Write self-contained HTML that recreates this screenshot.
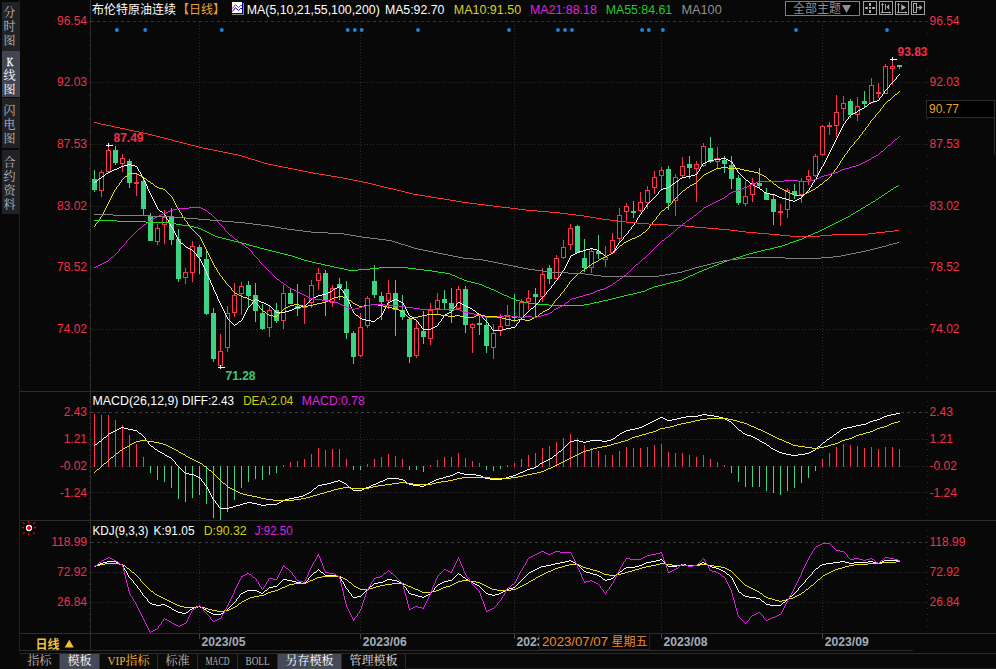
<!DOCTYPE html>
<html><head><meta charset="utf-8"><title>K</title>
<style>html,body{margin:0;padding:0;background:#080808;width:996px;height:669px;overflow:hidden;font-family:"Liberation Sans",sans-serif}</style>
</head><body>
<svg width="996" height="669" viewBox="0 0 996 669" style="position:absolute;left:0;top:0;display:block">
<rect width="996" height="669" fill="#080808"/>
<g shape-rendering="crispEdges">
<line x1="91" x2="927" y1="21.5" y2="21.5" stroke="#343434" stroke-dasharray="3 3"/>
<line x1="91" x2="927" y1="82.5" y2="82.5" stroke="#2c2c2c" stroke-dasharray="1 2"/>
<line x1="91" x2="927" y1="144.5" y2="144.5" stroke="#2c2c2c" stroke-dasharray="1 2"/>
<line x1="91" x2="927" y1="206.5" y2="206.5" stroke="#2c2c2c" stroke-dasharray="1 2"/>
<line x1="91" x2="927" y1="267.5" y2="267.5" stroke="#2c2c2c" stroke-dasharray="1 2"/>
<line x1="91" x2="927" y1="329.5" y2="329.5" stroke="#2c2c2c" stroke-dasharray="1 2"/>
<line x1="199.5" x2="199.5" y1="22" y2="391" stroke="#2c2c2c" stroke-dasharray="1 2"/>
<line x1="199.5" x2="199.5" y1="413" y2="520" stroke="#2c2c2c" stroke-dasharray="1 2"/>
<line x1="199.5" x2="199.5" y1="543" y2="633" stroke="#2c2c2c" stroke-dasharray="1 2"/>
<line x1="199.5" x2="199.5" y1="633" y2="639" stroke="#444"/>
<line x1="360.5" x2="360.5" y1="22" y2="391" stroke="#2c2c2c" stroke-dasharray="1 2"/>
<line x1="360.5" x2="360.5" y1="413" y2="520" stroke="#2c2c2c" stroke-dasharray="1 2"/>
<line x1="360.5" x2="360.5" y1="543" y2="633" stroke="#2c2c2c" stroke-dasharray="1 2"/>
<line x1="360.5" x2="360.5" y1="633" y2="639" stroke="#444"/>
<line x1="514.5" x2="514.5" y1="22" y2="391" stroke="#2c2c2c" stroke-dasharray="1 2"/>
<line x1="514.5" x2="514.5" y1="413" y2="520" stroke="#2c2c2c" stroke-dasharray="1 2"/>
<line x1="514.5" x2="514.5" y1="543" y2="633" stroke="#2c2c2c" stroke-dasharray="1 2"/>
<line x1="514.5" x2="514.5" y1="633" y2="639" stroke="#444"/>
<line x1="661.5" x2="661.5" y1="22" y2="391" stroke="#2c2c2c" stroke-dasharray="1 2"/>
<line x1="661.5" x2="661.5" y1="413" y2="520" stroke="#2c2c2c" stroke-dasharray="1 2"/>
<line x1="661.5" x2="661.5" y1="543" y2="633" stroke="#2c2c2c" stroke-dasharray="1 2"/>
<line x1="661.5" x2="661.5" y1="633" y2="639" stroke="#444"/>
<line x1="822.5" x2="822.5" y1="22" y2="391" stroke="#2c2c2c" stroke-dasharray="1 2"/>
<line x1="822.5" x2="822.5" y1="413" y2="520" stroke="#2c2c2c" stroke-dasharray="1 2"/>
<line x1="822.5" x2="822.5" y1="543" y2="633" stroke="#2c2c2c" stroke-dasharray="1 2"/>
<line x1="822.5" x2="822.5" y1="633" y2="639" stroke="#444"/>
<line x1="91" x2="927" y1="412.5" y2="412.5" stroke="#3c3c3c" stroke-dasharray="3 3"/>
<line x1="91" x2="927" y1="439.5" y2="439.5" stroke="#2c2c2c" stroke-dasharray="1 2"/>
<line x1="91" x2="927" y1="466.5" y2="466.5" stroke="#2c2c2c" stroke-dasharray="1 2"/>
<line x1="91" x2="927" y1="492.5" y2="492.5" stroke="#2c2c2c" stroke-dasharray="1 2"/>
<line x1="91" x2="927" y1="542.5" y2="542.5" stroke="#3c3c3c" stroke-dasharray="3 3"/>
<line x1="91" x2="927" y1="572.5" y2="572.5" stroke="#2c2c2c" stroke-dasharray="1 2"/>
<line x1="91" x2="927" y1="602.5" y2="602.5" stroke="#2c2c2c" stroke-dasharray="1 2"/>
<line x1="20" x2="996" y1="391.5" y2="391.5" stroke="#2c2c2c"/>
<line x1="20" x2="996" y1="520.5" y2="520.5" stroke="#2c2c2c"/>
<line x1="20" x2="996" y1="633.5" y2="633.5" stroke="#2c2c2c"/>
<line x1="20" x2="913" y1="650.5" y2="650.5" stroke="#2c2c2c"/>
<line x1="90.5" x2="90.5" y1="0" y2="651" stroke="#2c2c2c"/>
<line x1="19.5" x2="19.5" y1="0" y2="669" stroke="#222"/>
<line x1="89" x2="90" y1="21.5" y2="21.5" stroke="#2c2c2c"/>
<line x1="927" x2="928" y1="21.5" y2="21.5" stroke="#2c2c2c"/>
<line x1="89" x2="90" y1="33.5" y2="33.5" stroke="#2c2c2c"/>
<line x1="927" x2="928" y1="33.5" y2="33.5" stroke="#2c2c2c"/>
<line x1="89" x2="90" y1="45.5" y2="45.5" stroke="#2c2c2c"/>
<line x1="927" x2="928" y1="45.5" y2="45.5" stroke="#2c2c2c"/>
<line x1="89" x2="90" y1="58.5" y2="58.5" stroke="#2c2c2c"/>
<line x1="927" x2="928" y1="58.5" y2="58.5" stroke="#2c2c2c"/>
<line x1="89" x2="90" y1="70.5" y2="70.5" stroke="#2c2c2c"/>
<line x1="927" x2="928" y1="70.5" y2="70.5" stroke="#2c2c2c"/>
<line x1="89" x2="90" y1="82.5" y2="82.5" stroke="#2c2c2c"/>
<line x1="927" x2="928" y1="82.5" y2="82.5" stroke="#2c2c2c"/>
<line x1="89" x2="90" y1="95.5" y2="95.5" stroke="#2c2c2c"/>
<line x1="927" x2="928" y1="95.5" y2="95.5" stroke="#2c2c2c"/>
<line x1="89" x2="90" y1="107.5" y2="107.5" stroke="#2c2c2c"/>
<line x1="927" x2="928" y1="107.5" y2="107.5" stroke="#2c2c2c"/>
<line x1="89" x2="90" y1="119.5" y2="119.5" stroke="#2c2c2c"/>
<line x1="927" x2="928" y1="119.5" y2="119.5" stroke="#2c2c2c"/>
<line x1="89" x2="90" y1="131.5" y2="131.5" stroke="#2c2c2c"/>
<line x1="927" x2="928" y1="131.5" y2="131.5" stroke="#2c2c2c"/>
<line x1="89" x2="90" y1="144.5" y2="144.5" stroke="#2c2c2c"/>
<line x1="927" x2="928" y1="144.5" y2="144.5" stroke="#2c2c2c"/>
<line x1="89" x2="90" y1="156.5" y2="156.5" stroke="#2c2c2c"/>
<line x1="927" x2="928" y1="156.5" y2="156.5" stroke="#2c2c2c"/>
<line x1="89" x2="90" y1="168.5" y2="168.5" stroke="#2c2c2c"/>
<line x1="927" x2="928" y1="168.5" y2="168.5" stroke="#2c2c2c"/>
<line x1="89" x2="90" y1="181.5" y2="181.5" stroke="#2c2c2c"/>
<line x1="927" x2="928" y1="181.5" y2="181.5" stroke="#2c2c2c"/>
<line x1="89" x2="90" y1="193.5" y2="193.5" stroke="#2c2c2c"/>
<line x1="927" x2="928" y1="193.5" y2="193.5" stroke="#2c2c2c"/>
<line x1="89" x2="90" y1="205.5" y2="205.5" stroke="#2c2c2c"/>
<line x1="927" x2="928" y1="205.5" y2="205.5" stroke="#2c2c2c"/>
<line x1="89" x2="90" y1="218.5" y2="218.5" stroke="#2c2c2c"/>
<line x1="927" x2="928" y1="218.5" y2="218.5" stroke="#2c2c2c"/>
<line x1="89" x2="90" y1="230.5" y2="230.5" stroke="#2c2c2c"/>
<line x1="927" x2="928" y1="230.5" y2="230.5" stroke="#2c2c2c"/>
<line x1="89" x2="90" y1="242.5" y2="242.5" stroke="#2c2c2c"/>
<line x1="927" x2="928" y1="242.5" y2="242.5" stroke="#2c2c2c"/>
<line x1="89" x2="90" y1="254.5" y2="254.5" stroke="#2c2c2c"/>
<line x1="927" x2="928" y1="254.5" y2="254.5" stroke="#2c2c2c"/>
<line x1="89" x2="90" y1="267.5" y2="267.5" stroke="#2c2c2c"/>
<line x1="927" x2="928" y1="267.5" y2="267.5" stroke="#2c2c2c"/>
<line x1="89" x2="90" y1="279.5" y2="279.5" stroke="#2c2c2c"/>
<line x1="927" x2="928" y1="279.5" y2="279.5" stroke="#2c2c2c"/>
<line x1="89" x2="90" y1="291.5" y2="291.5" stroke="#2c2c2c"/>
<line x1="927" x2="928" y1="291.5" y2="291.5" stroke="#2c2c2c"/>
<line x1="89" x2="90" y1="304.5" y2="304.5" stroke="#2c2c2c"/>
<line x1="927" x2="928" y1="304.5" y2="304.5" stroke="#2c2c2c"/>
<line x1="89" x2="90" y1="316.5" y2="316.5" stroke="#2c2c2c"/>
<line x1="927" x2="928" y1="316.5" y2="316.5" stroke="#2c2c2c"/>
<line x1="89" x2="90" y1="328.5" y2="328.5" stroke="#2c2c2c"/>
<line x1="927" x2="928" y1="328.5" y2="328.5" stroke="#2c2c2c"/>
<line x1="89" x2="90" y1="341.5" y2="341.5" stroke="#2c2c2c"/>
<line x1="927" x2="928" y1="341.5" y2="341.5" stroke="#2c2c2c"/>
<line x1="89" x2="90" y1="353.5" y2="353.5" stroke="#2c2c2c"/>
<line x1="927" x2="928" y1="353.5" y2="353.5" stroke="#2c2c2c"/>
<line x1="89" x2="90" y1="365.5" y2="365.5" stroke="#2c2c2c"/>
<line x1="927" x2="928" y1="365.5" y2="365.5" stroke="#2c2c2c"/>
<line x1="89" x2="90" y1="377.5" y2="377.5" stroke="#2c2c2c"/>
<line x1="927" x2="928" y1="377.5" y2="377.5" stroke="#2c2c2c"/>
<line x1="89" x2="90" y1="401.5" y2="401.5" stroke="#2c2c2c"/>
<line x1="927" x2="928" y1="401.5" y2="401.5" stroke="#2c2c2c"/>
<line x1="89" x2="90" y1="406.5" y2="406.5" stroke="#2c2c2c"/>
<line x1="927" x2="928" y1="406.5" y2="406.5" stroke="#2c2c2c"/>
<line x1="89" x2="90" y1="412.5" y2="412.5" stroke="#2c2c2c"/>
<line x1="927" x2="928" y1="412.5" y2="412.5" stroke="#2c2c2c"/>
<line x1="89" x2="90" y1="417.5" y2="417.5" stroke="#2c2c2c"/>
<line x1="927" x2="928" y1="417.5" y2="417.5" stroke="#2c2c2c"/>
<line x1="89" x2="90" y1="423.5" y2="423.5" stroke="#2c2c2c"/>
<line x1="927" x2="928" y1="423.5" y2="423.5" stroke="#2c2c2c"/>
<line x1="89" x2="90" y1="428.5" y2="428.5" stroke="#2c2c2c"/>
<line x1="927" x2="928" y1="428.5" y2="428.5" stroke="#2c2c2c"/>
<line x1="89" x2="90" y1="433.5" y2="433.5" stroke="#2c2c2c"/>
<line x1="927" x2="928" y1="433.5" y2="433.5" stroke="#2c2c2c"/>
<line x1="89" x2="90" y1="439.5" y2="439.5" stroke="#2c2c2c"/>
<line x1="927" x2="928" y1="439.5" y2="439.5" stroke="#2c2c2c"/>
<line x1="89" x2="90" y1="444.5" y2="444.5" stroke="#2c2c2c"/>
<line x1="927" x2="928" y1="444.5" y2="444.5" stroke="#2c2c2c"/>
<line x1="89" x2="90" y1="449.5" y2="449.5" stroke="#2c2c2c"/>
<line x1="927" x2="928" y1="449.5" y2="449.5" stroke="#2c2c2c"/>
<line x1="89" x2="90" y1="455.5" y2="455.5" stroke="#2c2c2c"/>
<line x1="927" x2="928" y1="455.5" y2="455.5" stroke="#2c2c2c"/>
<line x1="89" x2="90" y1="460.5" y2="460.5" stroke="#2c2c2c"/>
<line x1="927" x2="928" y1="460.5" y2="460.5" stroke="#2c2c2c"/>
<line x1="89" x2="90" y1="466.5" y2="466.5" stroke="#2c2c2c"/>
<line x1="927" x2="928" y1="466.5" y2="466.5" stroke="#2c2c2c"/>
<line x1="89" x2="90" y1="471.5" y2="471.5" stroke="#2c2c2c"/>
<line x1="927" x2="928" y1="471.5" y2="471.5" stroke="#2c2c2c"/>
<line x1="89" x2="90" y1="476.5" y2="476.5" stroke="#2c2c2c"/>
<line x1="927" x2="928" y1="476.5" y2="476.5" stroke="#2c2c2c"/>
<line x1="89" x2="90" y1="482.5" y2="482.5" stroke="#2c2c2c"/>
<line x1="927" x2="928" y1="482.5" y2="482.5" stroke="#2c2c2c"/>
<line x1="89" x2="90" y1="487.5" y2="487.5" stroke="#2c2c2c"/>
<line x1="927" x2="928" y1="487.5" y2="487.5" stroke="#2c2c2c"/>
<line x1="89" x2="90" y1="492.5" y2="492.5" stroke="#2c2c2c"/>
<line x1="927" x2="928" y1="492.5" y2="492.5" stroke="#2c2c2c"/>
<line x1="89" x2="90" y1="498.5" y2="498.5" stroke="#2c2c2c"/>
<line x1="927" x2="928" y1="498.5" y2="498.5" stroke="#2c2c2c"/>
<line x1="89" x2="90" y1="503.5" y2="503.5" stroke="#2c2c2c"/>
<line x1="927" x2="928" y1="503.5" y2="503.5" stroke="#2c2c2c"/>
<line x1="89" x2="90" y1="508.5" y2="508.5" stroke="#2c2c2c"/>
<line x1="927" x2="928" y1="508.5" y2="508.5" stroke="#2c2c2c"/>
<line x1="89" x2="90" y1="514.5" y2="514.5" stroke="#2c2c2c"/>
<line x1="927" x2="928" y1="514.5" y2="514.5" stroke="#2c2c2c"/>
<line x1="89" x2="90" y1="530.5" y2="530.5" stroke="#2c2c2c"/>
<line x1="927" x2="928" y1="530.5" y2="530.5" stroke="#2c2c2c"/>
<line x1="89" x2="90" y1="536.5" y2="536.5" stroke="#2c2c2c"/>
<line x1="927" x2="928" y1="536.5" y2="536.5" stroke="#2c2c2c"/>
<line x1="89" x2="90" y1="542.5" y2="542.5" stroke="#2c2c2c"/>
<line x1="927" x2="928" y1="542.5" y2="542.5" stroke="#2c2c2c"/>
<line x1="89" x2="90" y1="548.5" y2="548.5" stroke="#2c2c2c"/>
<line x1="927" x2="928" y1="548.5" y2="548.5" stroke="#2c2c2c"/>
<line x1="89" x2="90" y1="554.5" y2="554.5" stroke="#2c2c2c"/>
<line x1="927" x2="928" y1="554.5" y2="554.5" stroke="#2c2c2c"/>
<line x1="89" x2="90" y1="560.5" y2="560.5" stroke="#2c2c2c"/>
<line x1="927" x2="928" y1="560.5" y2="560.5" stroke="#2c2c2c"/>
<line x1="89" x2="90" y1="566.5" y2="566.5" stroke="#2c2c2c"/>
<line x1="927" x2="928" y1="566.5" y2="566.5" stroke="#2c2c2c"/>
<line x1="89" x2="90" y1="572.5" y2="572.5" stroke="#2c2c2c"/>
<line x1="927" x2="928" y1="572.5" y2="572.5" stroke="#2c2c2c"/>
<line x1="89" x2="90" y1="578.5" y2="578.5" stroke="#2c2c2c"/>
<line x1="927" x2="928" y1="578.5" y2="578.5" stroke="#2c2c2c"/>
<line x1="89" x2="90" y1="584.5" y2="584.5" stroke="#2c2c2c"/>
<line x1="927" x2="928" y1="584.5" y2="584.5" stroke="#2c2c2c"/>
<line x1="89" x2="90" y1="590.5" y2="590.5" stroke="#2c2c2c"/>
<line x1="927" x2="928" y1="590.5" y2="590.5" stroke="#2c2c2c"/>
<line x1="89" x2="90" y1="596.5" y2="596.5" stroke="#2c2c2c"/>
<line x1="927" x2="928" y1="596.5" y2="596.5" stroke="#2c2c2c"/>
<line x1="89" x2="90" y1="602.5" y2="602.5" stroke="#2c2c2c"/>
<line x1="927" x2="928" y1="602.5" y2="602.5" stroke="#2c2c2c"/>
<line x1="89" x2="90" y1="608.5" y2="608.5" stroke="#2c2c2c"/>
<line x1="927" x2="928" y1="608.5" y2="608.5" stroke="#2c2c2c"/>
<line x1="89" x2="90" y1="614.5" y2="614.5" stroke="#2c2c2c"/>
<line x1="927" x2="928" y1="614.5" y2="614.5" stroke="#2c2c2c"/>
<line x1="89" x2="90" y1="620.5" y2="620.5" stroke="#2c2c2c"/>
<line x1="927" x2="928" y1="620.5" y2="620.5" stroke="#2c2c2c"/>
<line x1="89" x2="90" y1="626.5" y2="626.5" stroke="#2c2c2c"/>
<line x1="927" x2="928" y1="626.5" y2="626.5" stroke="#2c2c2c"/>
</g>
<g shape-rendering="crispEdges">
<rect x="94" y="170" width="1" height="22" fill="#3dd284"/>
<rect x="92" y="179" width="5" height="11" fill="#3dd284"/>
<rect x="101" y="170" width="1" height="2" fill="#ff3250"/>
<rect x="101" y="191" width="1" height="6" fill="#ff3250"/>
<rect x="99.5" y="172.5" width="4" height="18" fill="#000" stroke="#ff3250" stroke-width="1"/>
<rect x="108" y="145" width="1" height="5" fill="#ff3250"/>
<rect x="108" y="172" width="1" height="1" fill="#ff3250"/>
<rect x="106.5" y="150.5" width="4" height="21" fill="#000" stroke="#ff3250" stroke-width="1"/>
<rect x="115" y="146" width="1" height="19" fill="#3dd284"/>
<rect x="113" y="150" width="5" height="13" fill="#3dd284"/>
<rect x="122" y="154" width="1" height="4" fill="#ff3250"/>
<rect x="122" y="164" width="1" height="8" fill="#ff3250"/>
<rect x="120.5" y="158.5" width="4" height="5" fill="#000" stroke="#ff3250" stroke-width="1"/>
<rect x="129" y="159" width="1" height="29" fill="#3dd284"/>
<rect x="127" y="161" width="5" height="22" fill="#3dd284"/>
<rect x="136" y="174" width="1" height="22" fill="#ff3250"/>
<rect x="134" y="182" width="5" height="2" fill="#ff3250"/>
<rect x="143" y="178" width="1" height="37" fill="#3dd284"/>
<rect x="141" y="181" width="5" height="28" fill="#3dd284"/>
<rect x="150" y="213" width="1" height="28" fill="#3dd284"/>
<rect x="148" y="216" width="5" height="25" fill="#3dd284"/>
<rect x="157" y="224" width="1" height="4" fill="#ff3250"/>
<rect x="157" y="242" width="1" height="3" fill="#ff3250"/>
<rect x="155.5" y="228.5" width="4" height="13" fill="#000" stroke="#ff3250" stroke-width="1"/>
<rect x="164" y="210" width="1" height="7" fill="#ff3250"/>
<rect x="164" y="225" width="1" height="19" fill="#ff3250"/>
<rect x="162.5" y="217.5" width="4" height="7" fill="#000" stroke="#ff3250" stroke-width="1"/>
<rect x="171" y="208" width="1" height="37" fill="#3dd284"/>
<rect x="169" y="216" width="5" height="24" fill="#3dd284"/>
<rect x="178" y="229" width="1" height="53" fill="#3dd284"/>
<rect x="176" y="239" width="5" height="40" fill="#3dd284"/>
<rect x="185" y="268" width="1" height="4" fill="#ff3250"/>
<rect x="185" y="278" width="1" height="6" fill="#ff3250"/>
<rect x="183.5" y="272.5" width="4" height="5" fill="#000" stroke="#ff3250" stroke-width="1"/>
<rect x="192" y="241" width="1" height="5" fill="#ff3250"/>
<rect x="192" y="273" width="1" height="9" fill="#ff3250"/>
<rect x="190.5" y="246.5" width="4" height="26" fill="#000" stroke="#ff3250" stroke-width="1"/>
<rect x="199" y="245" width="1" height="29" fill="#3dd284"/>
<rect x="197" y="247" width="5" height="10" fill="#3dd284"/>
<rect x="206" y="251" width="1" height="64" fill="#3dd284"/>
<rect x="204" y="259" width="5" height="55" fill="#3dd284"/>
<rect x="213" y="308" width="1" height="54" fill="#3dd284"/>
<rect x="211" y="313" width="5" height="46" fill="#3dd284"/>
<rect x="220" y="334" width="1" height="17" fill="#ff3250"/>
<rect x="220" y="366" width="1" height="2" fill="#ff3250"/>
<rect x="218.5" y="351.5" width="4" height="14" fill="#000" stroke="#ff3250" stroke-width="1"/>
<rect x="227" y="306" width="1" height="7" fill="#ff3250"/>
<rect x="227" y="348" width="1" height="4" fill="#ff3250"/>
<rect x="225.5" y="313.5" width="4" height="34" fill="#000" stroke="#ff3250" stroke-width="1"/>
<rect x="234" y="283" width="1" height="12" fill="#ff3250"/>
<rect x="234" y="313" width="1" height="4" fill="#ff3250"/>
<rect x="232.5" y="295.5" width="4" height="17" fill="#000" stroke="#ff3250" stroke-width="1"/>
<rect x="241" y="282" width="1" height="4" fill="#ff3250"/>
<rect x="241" y="294" width="1" height="21" fill="#ff3250"/>
<rect x="239.5" y="286.5" width="4" height="7" fill="#000" stroke="#ff3250" stroke-width="1"/>
<rect x="248" y="281" width="1" height="27" fill="#3dd284"/>
<rect x="246" y="285" width="5" height="11" fill="#3dd284"/>
<rect x="255" y="283" width="1" height="39" fill="#3dd284"/>
<rect x="253" y="295" width="5" height="16" fill="#3dd284"/>
<rect x="262" y="304" width="1" height="26" fill="#3dd284"/>
<rect x="260" y="313" width="5" height="16" fill="#3dd284"/>
<rect x="269" y="306" width="1" height="4" fill="#ff3250"/>
<rect x="269" y="328" width="1" height="9" fill="#ff3250"/>
<rect x="267.5" y="310.5" width="4" height="17" fill="#000" stroke="#ff3250" stroke-width="1"/>
<rect x="276" y="303" width="1" height="20" fill="#3dd284"/>
<rect x="274" y="310" width="5" height="11" fill="#3dd284"/>
<rect x="283" y="285" width="1" height="8" fill="#ff3250"/>
<rect x="283" y="321" width="1" height="8" fill="#ff3250"/>
<rect x="281.5" y="293.5" width="4" height="27" fill="#000" stroke="#ff3250" stroke-width="1"/>
<rect x="290" y="289" width="1" height="15" fill="#3dd284"/>
<rect x="288" y="293" width="5" height="11" fill="#3dd284"/>
<rect x="297" y="284" width="1" height="32" fill="#3dd284"/>
<rect x="295" y="306" width="5" height="3" fill="#3dd284"/>
<rect x="304" y="298" width="1" height="26" fill="#ff3250"/>
<rect x="302" y="306" width="5" height="2" fill="#ff3250"/>
<rect x="311" y="280" width="1" height="5" fill="#ff3250"/>
<rect x="311" y="303" width="1" height="5" fill="#ff3250"/>
<rect x="309.5" y="285.5" width="4" height="17" fill="#000" stroke="#ff3250" stroke-width="1"/>
<rect x="318" y="268" width="1" height="5" fill="#ff3250"/>
<rect x="318" y="281" width="1" height="9" fill="#ff3250"/>
<rect x="316.5" y="273.5" width="4" height="7" fill="#000" stroke="#ff3250" stroke-width="1"/>
<rect x="325" y="270" width="1" height="46" fill="#3dd284"/>
<rect x="323" y="273" width="5" height="28" fill="#3dd284"/>
<rect x="332" y="285" width="1" height="3" fill="#ff3250"/>
<rect x="332" y="303" width="1" height="4" fill="#ff3250"/>
<rect x="330.5" y="288.5" width="4" height="14" fill="#000" stroke="#ff3250" stroke-width="1"/>
<rect x="339" y="278" width="1" height="22" fill="#3dd284"/>
<rect x="337" y="284" width="5" height="4" fill="#3dd284"/>
<rect x="346" y="281" width="1" height="58" fill="#3dd284"/>
<rect x="344" y="289" width="5" height="44" fill="#3dd284"/>
<rect x="353" y="331" width="1" height="33" fill="#3dd284"/>
<rect x="351" y="333" width="5" height="24" fill="#3dd284"/>
<rect x="360" y="313" width="1" height="14" fill="#ff3250"/>
<rect x="360" y="356" width="1" height="1" fill="#ff3250"/>
<rect x="358.5" y="327.5" width="4" height="28" fill="#000" stroke="#ff3250" stroke-width="1"/>
<rect x="367" y="296" width="1" height="2" fill="#ff3250"/>
<rect x="367" y="326" width="1" height="2" fill="#ff3250"/>
<rect x="365.5" y="298.5" width="4" height="27" fill="#000" stroke="#ff3250" stroke-width="1"/>
<rect x="374" y="265" width="1" height="33" fill="#3dd284"/>
<rect x="372" y="281" width="5" height="14" fill="#3dd284"/>
<rect x="381" y="292" width="1" height="28" fill="#3dd284"/>
<rect x="379" y="296" width="5" height="6" fill="#3dd284"/>
<rect x="388" y="280" width="1" height="13" fill="#ff3250"/>
<rect x="388" y="301" width="1" height="8" fill="#ff3250"/>
<rect x="386.5" y="293.5" width="4" height="7" fill="#000" stroke="#ff3250" stroke-width="1"/>
<rect x="395" y="280" width="1" height="56" fill="#3dd284"/>
<rect x="393" y="293" width="5" height="17" fill="#3dd284"/>
<rect x="402" y="295" width="1" height="25" fill="#3dd284"/>
<rect x="400" y="310" width="5" height="7" fill="#3dd284"/>
<rect x="409" y="317" width="1" height="46" fill="#3dd284"/>
<rect x="407" y="319" width="5" height="38" fill="#3dd284"/>
<rect x="416" y="321" width="1" height="7" fill="#ff3250"/>
<rect x="416" y="356" width="1" height="2" fill="#ff3250"/>
<rect x="414.5" y="328.5" width="4" height="27" fill="#000" stroke="#ff3250" stroke-width="1"/>
<rect x="423" y="311" width="1" height="33" fill="#3dd284"/>
<rect x="421" y="331" width="5" height="6" fill="#3dd284"/>
<rect x="430" y="303" width="1" height="7" fill="#ff3250"/>
<rect x="430" y="339" width="1" height="6" fill="#ff3250"/>
<rect x="428.5" y="310.5" width="4" height="28" fill="#000" stroke="#ff3250" stroke-width="1"/>
<rect x="437" y="293" width="1" height="7" fill="#ff3250"/>
<rect x="437" y="309" width="1" height="5" fill="#ff3250"/>
<rect x="435.5" y="300.5" width="4" height="8" fill="#000" stroke="#ff3250" stroke-width="1"/>
<rect x="444" y="290" width="1" height="20" fill="#3dd284"/>
<rect x="442" y="299" width="5" height="4" fill="#3dd284"/>
<rect x="451" y="288" width="1" height="35" fill="#3dd284"/>
<rect x="449" y="303" width="5" height="8" fill="#3dd284"/>
<rect x="458" y="286" width="1" height="3" fill="#ff3250"/>
<rect x="458" y="309" width="1" height="1" fill="#ff3250"/>
<rect x="456.5" y="289.5" width="4" height="19" fill="#000" stroke="#ff3250" stroke-width="1"/>
<rect x="465" y="286" width="1" height="47" fill="#3dd284"/>
<rect x="463" y="289" width="5" height="36" fill="#3dd284"/>
<rect x="472" y="323" width="1" height="1" fill="#ff3250"/>
<rect x="472" y="328" width="1" height="25" fill="#ff3250"/>
<rect x="470.5" y="324.5" width="4" height="3" fill="#000" stroke="#ff3250" stroke-width="1"/>
<rect x="479" y="316" width="1" height="19" fill="#3dd284"/>
<rect x="477" y="323" width="5" height="2" fill="#3dd284"/>
<rect x="486" y="317" width="1" height="36" fill="#3dd284"/>
<rect x="484" y="325" width="5" height="21" fill="#3dd284"/>
<rect x="493" y="324" width="1" height="9" fill="#ff3250"/>
<rect x="493" y="348" width="1" height="11" fill="#ff3250"/>
<rect x="491.5" y="333.5" width="4" height="14" fill="#000" stroke="#ff3250" stroke-width="1"/>
<rect x="500" y="314" width="1" height="12" fill="#ff3250"/>
<rect x="500" y="331" width="1" height="5" fill="#ff3250"/>
<rect x="498.5" y="326.5" width="4" height="4" fill="#000" stroke="#ff3250" stroke-width="1"/>
<rect x="507" y="305" width="1" height="11" fill="#ff3250"/>
<rect x="505.5" y="316.5" width="4" height="9" fill="#000" stroke="#ff3250" stroke-width="1"/>
<rect x="514" y="294" width="1" height="28" fill="#3dd284"/>
<rect x="512" y="316" width="5" height="2" fill="#3dd284"/>
<rect x="521" y="299" width="1" height="3" fill="#ff3250"/>
<rect x="521" y="318" width="1" height="1" fill="#ff3250"/>
<rect x="519.5" y="302.5" width="4" height="15" fill="#000" stroke="#ff3250" stroke-width="1"/>
<rect x="528" y="290" width="1" height="8" fill="#ff3250"/>
<rect x="528" y="302" width="1" height="8" fill="#ff3250"/>
<rect x="526.5" y="298.5" width="4" height="3" fill="#000" stroke="#ff3250" stroke-width="1"/>
<rect x="535" y="288" width="1" height="29" fill="#3dd284"/>
<rect x="533" y="294" width="5" height="3" fill="#3dd284"/>
<rect x="542" y="268" width="1" height="6" fill="#ff3250"/>
<rect x="542" y="297" width="1" height="5" fill="#ff3250"/>
<rect x="540.5" y="274.5" width="4" height="22" fill="#000" stroke="#ff3250" stroke-width="1"/>
<rect x="549" y="265" width="1" height="19" fill="#3dd284"/>
<rect x="547" y="268" width="5" height="11" fill="#3dd284"/>
<rect x="556" y="255" width="1" height="3" fill="#ff3250"/>
<rect x="554.5" y="258.5" width="4" height="20" fill="#000" stroke="#ff3250" stroke-width="1"/>
<rect x="563" y="240" width="1" height="7" fill="#ff3250"/>
<rect x="563" y="258" width="1" height="1" fill="#ff3250"/>
<rect x="561.5" y="247.5" width="4" height="10" fill="#000" stroke="#ff3250" stroke-width="1"/>
<rect x="570" y="224" width="1" height="4" fill="#ff3250"/>
<rect x="570" y="245" width="1" height="5" fill="#ff3250"/>
<rect x="568.5" y="228.5" width="4" height="16" fill="#000" stroke="#ff3250" stroke-width="1"/>
<rect x="577" y="225" width="1" height="28" fill="#3dd284"/>
<rect x="575" y="226" width="5" height="27" fill="#3dd284"/>
<rect x="584" y="239" width="1" height="33" fill="#3dd284"/>
<rect x="582" y="258" width="5" height="10" fill="#3dd284"/>
<rect x="591" y="248" width="1" height="3" fill="#ff3250"/>
<rect x="591" y="268" width="1" height="5" fill="#ff3250"/>
<rect x="589.5" y="251.5" width="4" height="16" fill="#000" stroke="#ff3250" stroke-width="1"/>
<rect x="598" y="235" width="1" height="24" fill="#3dd284"/>
<rect x="596" y="251" width="5" height="3" fill="#3dd284"/>
<rect x="605" y="246" width="1" height="11" fill="#ff3250"/>
<rect x="605" y="260" width="1" height="7" fill="#ff3250"/>
<rect x="603.5" y="257.5" width="4" height="2" fill="#000" stroke="#ff3250" stroke-width="1"/>
<rect x="612" y="233" width="1" height="7" fill="#ff3250"/>
<rect x="612" y="253" width="1" height="1" fill="#ff3250"/>
<rect x="610.5" y="240.5" width="4" height="12" fill="#000" stroke="#ff3250" stroke-width="1"/>
<rect x="619" y="208" width="1" height="7" fill="#ff3250"/>
<rect x="619" y="239" width="1" height="4" fill="#ff3250"/>
<rect x="617.5" y="215.5" width="4" height="23" fill="#000" stroke="#ff3250" stroke-width="1"/>
<rect x="626" y="203" width="1" height="3" fill="#ff3250"/>
<rect x="626" y="212" width="1" height="9" fill="#ff3250"/>
<rect x="624.5" y="206.5" width="4" height="5" fill="#000" stroke="#ff3250" stroke-width="1"/>
<rect x="633" y="201" width="1" height="17" fill="#3dd284"/>
<rect x="631" y="211" width="5" height="2" fill="#3dd284"/>
<rect x="640" y="192" width="1" height="10" fill="#ff3250"/>
<rect x="640" y="211" width="1" height="1" fill="#ff3250"/>
<rect x="638.5" y="202.5" width="4" height="8" fill="#000" stroke="#ff3250" stroke-width="1"/>
<rect x="647" y="186" width="1" height="4" fill="#ff3250"/>
<rect x="647" y="203" width="1" height="6" fill="#ff3250"/>
<rect x="645.5" y="190.5" width="4" height="12" fill="#000" stroke="#ff3250" stroke-width="1"/>
<rect x="654" y="171" width="1" height="6" fill="#ff3250"/>
<rect x="654" y="188" width="1" height="6" fill="#ff3250"/>
<rect x="652.5" y="177.5" width="4" height="10" fill="#000" stroke="#ff3250" stroke-width="1"/>
<rect x="661" y="167" width="1" height="3" fill="#ff3250"/>
<rect x="661" y="176" width="1" height="13" fill="#ff3250"/>
<rect x="659.5" y="170.5" width="4" height="5" fill="#000" stroke="#ff3250" stroke-width="1"/>
<rect x="668" y="166" width="1" height="44" fill="#3dd284"/>
<rect x="666" y="169" width="5" height="34" fill="#3dd284"/>
<rect x="675" y="174" width="1" height="3" fill="#ff3250"/>
<rect x="675" y="201" width="1" height="15" fill="#ff3250"/>
<rect x="673.5" y="177.5" width="4" height="23" fill="#000" stroke="#ff3250" stroke-width="1"/>
<rect x="682" y="157" width="1" height="9" fill="#ff3250"/>
<rect x="682" y="176" width="1" height="1" fill="#ff3250"/>
<rect x="680.5" y="166.5" width="4" height="9" fill="#000" stroke="#ff3250" stroke-width="1"/>
<rect x="689" y="156" width="1" height="23" fill="#3dd284"/>
<rect x="687" y="164" width="5" height="4" fill="#3dd284"/>
<rect x="696" y="161" width="1" height="3" fill="#ff3250"/>
<rect x="696" y="169" width="1" height="33" fill="#ff3250"/>
<rect x="694.5" y="164.5" width="4" height="4" fill="#000" stroke="#ff3250" stroke-width="1"/>
<rect x="703" y="143" width="1" height="3" fill="#ff3250"/>
<rect x="703" y="166" width="1" height="1" fill="#ff3250"/>
<rect x="701.5" y="146.5" width="4" height="19" fill="#000" stroke="#ff3250" stroke-width="1"/>
<rect x="710" y="137" width="1" height="26" fill="#3dd284"/>
<rect x="708" y="148" width="5" height="14" fill="#3dd284"/>
<rect x="717" y="147" width="1" height="11" fill="#ff3250"/>
<rect x="717" y="162" width="1" height="6" fill="#ff3250"/>
<rect x="715.5" y="158.5" width="4" height="3" fill="#000" stroke="#ff3250" stroke-width="1"/>
<rect x="724" y="156" width="1" height="17" fill="#3dd284"/>
<rect x="722" y="160" width="5" height="4" fill="#3dd284"/>
<rect x="731" y="156" width="1" height="33" fill="#3dd284"/>
<rect x="729" y="165" width="5" height="14" fill="#3dd284"/>
<rect x="738" y="175" width="1" height="30" fill="#3dd284"/>
<rect x="736" y="178" width="5" height="25" fill="#3dd284"/>
<rect x="745" y="181" width="1" height="15" fill="#ff3250"/>
<rect x="745" y="204" width="1" height="2" fill="#ff3250"/>
<rect x="743.5" y="196.5" width="4" height="7" fill="#000" stroke="#ff3250" stroke-width="1"/>
<rect x="752" y="178" width="1" height="5" fill="#ff3250"/>
<rect x="752" y="195" width="1" height="7" fill="#ff3250"/>
<rect x="750.5" y="183.5" width="4" height="11" fill="#000" stroke="#ff3250" stroke-width="1"/>
<rect x="759" y="168" width="1" height="20" fill="#3dd284"/>
<rect x="757" y="183" width="5" height="3" fill="#3dd284"/>
<rect x="766" y="188" width="1" height="12" fill="#3dd284"/>
<rect x="764" y="193" width="5" height="7" fill="#3dd284"/>
<rect x="773" y="195" width="1" height="30" fill="#3dd284"/>
<rect x="771" y="199" width="5" height="13" fill="#3dd284"/>
<rect x="780" y="204" width="1" height="22" fill="#ff3250"/>
<rect x="778" y="211" width="5" height="2" fill="#ff3250"/>
<rect x="787" y="188" width="1" height="2" fill="#ff3250"/>
<rect x="787" y="210" width="1" height="8" fill="#ff3250"/>
<rect x="785.5" y="190.5" width="4" height="19" fill="#000" stroke="#ff3250" stroke-width="1"/>
<rect x="794" y="184" width="1" height="15" fill="#3dd284"/>
<rect x="792" y="191" width="5" height="4" fill="#3dd284"/>
<rect x="801" y="178" width="1" height="3" fill="#ff3250"/>
<rect x="801" y="195" width="1" height="8" fill="#ff3250"/>
<rect x="799.5" y="181.5" width="4" height="13" fill="#000" stroke="#ff3250" stroke-width="1"/>
<rect x="808" y="170" width="1" height="6" fill="#ff3250"/>
<rect x="808" y="180" width="1" height="5" fill="#ff3250"/>
<rect x="806.5" y="176.5" width="4" height="3" fill="#000" stroke="#ff3250" stroke-width="1"/>
<rect x="815" y="154" width="1" height="2" fill="#ff3250"/>
<rect x="815" y="176" width="1" height="1" fill="#ff3250"/>
<rect x="813.5" y="156.5" width="4" height="19" fill="#000" stroke="#ff3250" stroke-width="1"/>
<rect x="822" y="125" width="1" height="1" fill="#ff3250"/>
<rect x="822" y="155" width="1" height="1" fill="#ff3250"/>
<rect x="820.5" y="126.5" width="4" height="28" fill="#000" stroke="#ff3250" stroke-width="1"/>
<rect x="829" y="122" width="1" height="13" fill="#ff3250"/>
<rect x="827" y="125" width="5" height="2" fill="#ff3250"/>
<rect x="836" y="95" width="1" height="17" fill="#ff3250"/>
<rect x="836" y="126" width="1" height="11" fill="#ff3250"/>
<rect x="834.5" y="112.5" width="4" height="13" fill="#000" stroke="#ff3250" stroke-width="1"/>
<rect x="843" y="96" width="1" height="7" fill="#ff3250"/>
<rect x="843" y="109" width="1" height="12" fill="#ff3250"/>
<rect x="841.5" y="103.5" width="4" height="5" fill="#000" stroke="#ff3250" stroke-width="1"/>
<rect x="850" y="99" width="1" height="19" fill="#3dd284"/>
<rect x="848" y="101" width="5" height="14" fill="#3dd284"/>
<rect x="857" y="97" width="1" height="9" fill="#ff3250"/>
<rect x="857" y="115" width="1" height="6" fill="#ff3250"/>
<rect x="855.5" y="106.5" width="4" height="8" fill="#000" stroke="#ff3250" stroke-width="1"/>
<rect x="864" y="91" width="1" height="16" fill="#3dd284"/>
<rect x="862" y="101" width="5" height="3" fill="#3dd284"/>
<rect x="871" y="78" width="1" height="7" fill="#ff3250"/>
<rect x="869.5" y="85.5" width="4" height="17" fill="#000" stroke="#ff3250" stroke-width="1"/>
<rect x="878" y="83" width="1" height="15" fill="#ff3250"/>
<rect x="876" y="92" width="5" height="2" fill="#ff3250"/>
<rect x="885" y="64" width="1" height="2" fill="#ff3250"/>
<rect x="883.5" y="66.5" width="4" height="27" fill="#000" stroke="#ff3250" stroke-width="1"/>
<rect x="892" y="60" width="1" height="6" fill="#ff3250"/>
<rect x="892" y="69" width="1" height="16" fill="#ff3250"/>
<rect x="890.5" y="66.5" width="4" height="2" fill="#000" stroke="#ff3250" stroke-width="1"/>
<rect x="899" y="65" width="1" height="4" fill="#3dd284"/>
<rect x="897" y="65" width="5" height="2" fill="#3dd284"/>
</g>
<path d="M350.5 304v3M217.5 296v3M210.5 280v3M206.5 271v3M213.5 287v3M147.5 186v3M165 216.5h1M639 216.5h1M98 179.5h1M143 179.5h1M679 179.5h1M745 179.5h1M815 179.5h1M194 252.5h1M577 252.5h2M600 252.5h1M613 252.5h1M220 303.5h1M252 303.5h1M264 303.5h2M307 303.5h1M349 303.5h1M387 303.5h1M403 303.5h1M457 303.5h1M460 303.5h2M537 303.5h1M220 304.5h1M251 304.5h1M266 304.5h2M306 304.5h1M387 304.5h1M403 304.5h1M456 304.5h1M462 304.5h2M536 304.5h1M230 321.5h1M239 321.5h2M371 321.5h4M417 321.5h1M440 321.5h1M486 321.5h1M519 321.5h1M150 194.5h1M657 194.5h1M770 194.5h5M804 194.5h1M215 293.5h1M326 293.5h2M344 293.5h1M546 293.5h1M333 289.5h2M341 289.5h1M549 289.5h1M192 250.5h1M583 250.5h3M597 250.5h2M614 250.5h1M219 302.5h1M252 302.5h1M261 302.5h3M308 302.5h1M349 302.5h1M388 302.5h2M401 302.5h2M458 302.5h2M538 302.5h1M216 294.5h1M322 294.5h4M345 294.5h1M545 294.5h1M493 330.5h9M314 297.5h2M346 297.5h1M542 297.5h1M185 246.5h1M616 246.5h1M157 208.5h1M644 208.5h1M214 290.5h1M332 290.5h1M342 290.5h1M548 290.5h1M216 295.5h1M318 295.5h4M345 295.5h1M544 295.5h1M128 164.5h3M702 164.5h1M733 164.5h1M823 164.5h1M106 173.5h2M140 173.5h1M697 173.5h1M739 173.5h1M818 173.5h1M112 170.5h2M138 170.5h1M699 170.5h1M737 170.5h1M820 170.5h1M221 305.5h1M250 305.5h1M268 305.5h2M305 305.5h1M386 305.5h1M404 305.5h1M456 305.5h1M464 305.5h2M535 305.5h1M421 327.5h1M433 327.5h2M491 327.5h1M511 327.5h4M152 197.5h1M654 197.5h1M779 197.5h3M801 197.5h1M663 188.5h4M759 188.5h1M809 188.5h1M208 277.5h1M558 277.5h1M171 226.5h1M632 226.5h1M337 287.5h2M340 287.5h1M551 287.5h1M145 183.5h1M673 183.5h2M750 183.5h2M812 183.5h1M154 202.5h1M649 202.5h1M229 320.5h1M241 320.5h1M366 320.5h5M375 320.5h1M416 320.5h1M441 320.5h1M485 320.5h1M519 320.5h1M840 130.5h1M175 234.5h1M626 234.5h1M215 292.5h1M328 292.5h2M343 292.5h1M546 292.5h1M175 233.5h1M627 233.5h1M97 180.5h1M144 180.5h1M678 180.5h1M746 180.5h2M814 180.5h1M152 198.5h1M653 198.5h1M782 198.5h4M799 198.5h2M227 317.5h1M243 317.5h1M359 317.5h1M379 317.5h1M412 317.5h1M443 317.5h1M482 317.5h1M522 317.5h1M195 253.5h1M575 253.5h2M601 253.5h2M611 253.5h2M190 249.5h2M586 249.5h4M593 249.5h4M615 249.5h1M223 310.5h1M246 310.5h1M274 310.5h1M289 310.5h3M352 310.5h1M384 310.5h1M406 310.5h1M452 310.5h1M473 310.5h2M529 310.5h1M221 306.5h1M249 306.5h1M270 306.5h1M301 306.5h4M386 306.5h1M404 306.5h1M455 306.5h1M466 306.5h2M534 306.5h1M223 309.5h1M247 309.5h1M273 309.5h1M292 309.5h2M352 309.5h1M384 309.5h1M406 309.5h1M453 309.5h1M472 309.5h1M530 309.5h1M176 235.5h1M625 235.5h1M176 236.5h1M624 236.5h1M124 165.5h4M131 165.5h4M702 165.5h1M734 165.5h1M823 165.5h1M831 148.5h1M882 95.5h1M101 177.5h1M142 177.5h1M682 177.5h4M743 177.5h1M816 177.5h1M208 276.5h1M559 276.5h1M227 318.5h1M242 318.5h1M360 318.5h2M377 318.5h2M413 318.5h1M442 318.5h1M483 318.5h1M521 318.5h1M203 266.5h1M565 266.5h1M222 308.5h1M247 308.5h1M272 308.5h1M294 308.5h2M351 308.5h1M385 308.5h1M405 308.5h1M453 308.5h1M470 308.5h2M531 308.5h2M224 312.5h1M245 312.5h1M276 312.5h9M353 312.5h1M383 312.5h1M407 312.5h1M449 312.5h2M476 312.5h1M527 312.5h1M108 172.5h2M140 172.5h1M697 172.5h1M738 172.5h1M819 172.5h1M705 162.5h2M732 162.5h1M824 162.5h1M168 221.5h1M636 221.5h1M196 255.5h1M571 255.5h2M604 255.5h1M607 255.5h2M844 123.5h1M222 307.5h1M248 307.5h1M271 307.5h1M296 307.5h5M351 307.5h1M385 307.5h1M405 307.5h1M454 307.5h1M468 307.5h2M533 307.5h1M847 119.5h1M873 101.5h4M231 322.5h1M238 322.5h1M418 322.5h1M439 322.5h1M487 322.5h1M518 322.5h1M180 242.5h1M619 242.5h1M835 141.5h1M219 301.5h1M253 301.5h1M259 301.5h2M309 301.5h1M348 301.5h1M390 301.5h2M399 301.5h2M539 301.5h1M233 324.5h1M235 324.5h2M419 324.5h1M438 324.5h1M488 324.5h1M516 324.5h1M146 184.5h1M672 184.5h1M752 184.5h1M812 184.5h1M218 300.5h1M254 300.5h1M257 300.5h2M310 300.5h1M348 300.5h1M392 300.5h2M397 300.5h2M539 300.5h1M200 259.5h1M569 259.5h1M228 319.5h1M242 319.5h1M362 319.5h4M376 319.5h1M414 319.5h2M441 319.5h1M484 319.5h1M520 319.5h1M99 178.5h2M143 178.5h1M680 178.5h2M744 178.5h1M816 178.5h1M234 325.5h1M420 325.5h1M437 325.5h1M489 325.5h1M516 325.5h1M422 328.5h1M431 328.5h2M491 328.5h1M506 328.5h5M156 206.5h1M646 206.5h1M226 315.5h1M244 315.5h1M356 315.5h2M381 315.5h1M409 315.5h1M444 315.5h1M480 315.5h1M524 315.5h1M561 273.5h1M709 160.5h5M728 160.5h2M825 160.5h1M102 176.5h2M142 176.5h1M686 176.5h5M742 176.5h1M817 176.5h1M121 166.5h3M135 166.5h2M701 166.5h1M734 166.5h1M822 166.5h1M226 316.5h1M243 316.5h1M358 316.5h1M380 316.5h1M410 316.5h2M443 316.5h1M481 316.5h1M523 316.5h1M110 171.5h2M139 171.5h1M698 171.5h1M737 171.5h1M819 171.5h1M157 207.5h1M645 207.5h1M119 167.5h2M137 167.5h1M700 167.5h1M735 167.5h1M821 167.5h1M178 239.5h1M622 239.5h1M153 199.5h1M652 199.5h1M786 199.5h3M797 199.5h2M188 248.5h2M590 248.5h3M615 248.5h1M218 299.5h1M255 299.5h2M311 299.5h1M347 299.5h1M394 299.5h3M540 299.5h1M423 329.5h8M492 329.5h1M502 329.5h4M153 200.5h1M651 200.5h1M789 200.5h4M795 200.5h2M721 158.5h5M826 158.5h1M858 110.5h2M149 192.5h1M658 192.5h1M764 192.5h2M806 192.5h1M151 196.5h1M655 196.5h1M777 196.5h2M802 196.5h1M224 311.5h1M246 311.5h1M275 311.5h1M285 311.5h4M353 311.5h1M383 311.5h1M407 311.5h1M451 311.5h1M475 311.5h1M528 311.5h1M850 115.5h1M225 314.5h1M244 314.5h1M355 314.5h1M382 314.5h1M408 314.5h1M445 314.5h2M479 314.5h1M525 314.5h1M839 133.5h1M164 214.5h1M640 214.5h1M105 174.5h1M141 174.5h1M695 174.5h2M740 174.5h1M818 174.5h1M165 215.5h1M639 215.5h1M882 94.5h1M862 108.5h2M186 247.5h2M616 247.5h1M898 75.5h1M197 256.5h1M570 256.5h1M605 256.5h2M707 161.5h2M730 161.5h2M825 161.5h1M835 140.5h1M893 81.5h1M169 222.5h1M635 222.5h1M193 251.5h1M579 251.5h4M599 251.5h1M613 251.5h1M199 258.5h1M569 258.5h1M177 238.5h1M623 238.5h1M114 169.5h3M138 169.5h1M699 169.5h1M736 169.5h1M820 169.5h1M156 205.5h1M646 205.5h1M843 125.5h1M170 225.5h1M633 225.5h1M207 274.5h1M560 274.5h1M160 211.5h2M642 211.5h1M232 323.5h1M237 323.5h1M418 323.5h1M438 323.5h1M488 323.5h1M517 323.5h1M148 189.5h1M661 189.5h2M760 189.5h2M809 189.5h1M834 143.5h1M163 213.5h1M641 213.5h1M209 279.5h1M557 279.5h1M154 201.5h1M650 201.5h1M793 201.5h2M94 182.5h1M145 182.5h1M675 182.5h1M749 182.5h1M813 182.5h1M204 268.5h1M564 268.5h1M885 90.5h1M839 132.5h1M205 269.5h1M564 269.5h1M703 163.5h2M732 163.5h1M824 163.5h1M830 150.5h1M212 285.5h1M552 285.5h1M196 254.5h1M573 254.5h2M603 254.5h1M609 254.5h2M877 100.5h2M150 193.5h1M658 193.5h1M766 193.5h4M805 193.5h1M335 288.5h2M340 288.5h1M550 288.5h1M225 313.5h1M245 313.5h1M354 313.5h1M382 313.5h1M408 313.5h1M447 313.5h2M477 313.5h2M526 313.5h1M211 284.5h1M553 284.5h1M181 243.5h2M618 243.5h1M104 175.5h1M141 175.5h1M691 175.5h4M741 175.5h1M817 175.5h1M838 135.5h1M174 231.5h1M628 231.5h1M146 185.5h1M671 185.5h1M753 185.5h2M811 185.5h1M829 153.5h1M183 244.5h1M618 244.5h1M117 168.5h2M137 168.5h1M700 168.5h1M735 168.5h1M821 168.5h1M167 219.5h1M637 219.5h1M170 224.5h1M634 224.5h1M312 298.5h2M347 298.5h1M541 298.5h1M201 261.5h1M568 261.5h1M714 159.5h7M726 159.5h2M826 159.5h1M834 142.5h1M214 291.5h1M330 291.5h2M343 291.5h1M547 291.5h1M173 230.5h1M629 230.5h1M151 195.5h1M656 195.5h1M775 195.5h2M803 195.5h1M669 186.5h2M755 186.5h2M811 186.5h1M166 217.5h1M638 217.5h1M860 109.5h2M159 210.5h1M643 210.5h1M95 181.5h2M144 181.5h1M676 181.5h2M748 181.5h1M814 181.5h1M833 145.5h1M178 240.5h1M621 240.5h1M857 111.5h1M846 120.5h1M173 229.5h1M630 229.5h1M316 296.5h2M346 296.5h1M543 296.5h1M207 275.5h1M560 275.5h1M895 79.5h1M829 152.5h1M842 127.5h1M555 281.5h1M200 260.5h1M568 260.5h1M158 209.5h1M644 209.5h1M892 82.5h1M421 326.5h1M435 326.5h2M490 326.5h1M515 326.5h1M148 190.5h1M660 190.5h1M762 190.5h1M808 190.5h1M828 155.5h1M155 203.5h1M648 203.5h1M849 116.5h1M884 92.5h1M865 106.5h2M162 212.5h1M641 212.5h1M853 113.5h2M833 144.5h1M172 227.5h1M631 227.5h1M879 98.5h1M205 270.5h1M563 270.5h1M202 264.5h1M566 264.5h1M837 137.5h1M198 257.5h1M570 257.5h1M887 88.5h1M202 263.5h1M567 263.5h1M828 154.5h1M168 220.5h1M636 220.5h1M211 283.5h1M554 283.5h1M174 232.5h1M628 232.5h1M867 105.5h1M832 147.5h1M667 187.5h2M757 187.5h2M810 187.5h1M871 102.5h2M212 286.5h1M339 286.5h1M551 286.5h1M890 84.5h1M184 245.5h1M617 245.5h1M179 241.5h1M620 241.5h1M201 262.5h1M567 262.5h1M836 139.5h1M855 112.5h2M554 282.5h1M203 265.5h1M566 265.5h1M832 146.5h1M848 118.5h1M177 237.5h1M623 237.5h1M155 204.5h1M647 204.5h1M843 124.5h1M562 272.5h1M172 228.5h1M631 228.5h1M209 278.5h1M557 278.5h1M204 267.5h1M565 267.5h1M827 157.5h1M149 191.5h1M659 191.5h1M763 191.5h1M807 191.5h1M851 114.5h2M886 89.5h1M881 96.5h1M838 134.5h1M894 80.5h1M897 76.5h1M831 149.5h1M889 86.5h1M169 223.5h1M634 223.5h1M827 156.5h1M869 103.5h2M842 126.5h1M845 122.5h1M889 85.5h1M884 91.5h1M841 129.5h1M556 280.5h1M837 136.5h1M166 218.5h1M637 218.5h1M896 78.5h1M899 74.5h1M830 151.5h1M845 121.5h1M841 128.5h1M888 87.5h1M880 97.5h1M883 93.5h1M864 107.5h1M896 77.5h1M836 138.5h1M891 83.5h1M848 117.5h1M868 104.5h1M840 131.5h1M562 271.5h1M879 99.5h1" fill="none" stroke="#ffffff" stroke-width="1" shape-rendering="crispEdges"/>
<path d="M217 271.5h1M581 271.5h1M714 169.5h2M740 169.5h4M835 169.5h1M710 171.5h2M749 171.5h5M834 171.5h1M265 312.5h1M280 312.5h1M403 312.5h1M542 312.5h1M97 222.5h1M187 222.5h1M652 222.5h1M712 170.5h2M744 170.5h5M834 170.5h1M213 263.5h1M592 263.5h2M112 195.5h1M170 195.5h1M678 195.5h1M794 195.5h9M267 314.5h2M278 314.5h1M405 314.5h1M427 314.5h14M478 314.5h3M539 314.5h1M408 317.5h1M413 317.5h5M464 317.5h10M497 317.5h5M534 317.5h2M216 268.5h1M585 268.5h2M108 203.5h1M175 203.5h1M671 203.5h1M114 191.5h1M166 191.5h1M682 191.5h1M786 191.5h2M809 191.5h2M209 255.5h1M607 255.5h2M257 304.5h1M294 304.5h5M313 304.5h4M355 304.5h2M371 304.5h7M552 304.5h1M191 228.5h1M648 228.5h1M113 192.5h1M167 192.5h1M681 192.5h1M788 192.5h2M807 192.5h2M119 183.5h1M151 183.5h2M694 183.5h2M773 183.5h1M822 183.5h1M214 265.5h1M589 265.5h2M116 188.5h1M159 188.5h4M686 188.5h1M780 188.5h2M815 188.5h1M875 115.5h1M205 248.5h1M617 248.5h1M259 306.5h1M288 306.5h2M303 306.5h5M359 306.5h5M383 306.5h4M551 306.5h1M716 168.5h5M728 168.5h12M836 168.5h1M195 232.5h1M643 232.5h2M202 242.5h1M624 242.5h2M210 257.5h1M603 257.5h2M200 237.5h1M635 237.5h2M858 138.5h1M208 253.5h1M611 253.5h2M266 313.5h1M279 313.5h1M404 313.5h1M540 313.5h2M225 282.5h1M569 282.5h1M104 210.5h1M179 210.5h1M662 210.5h2M127 175.5h1M139 175.5h2M703 175.5h1M762 175.5h2M831 175.5h1M192 229.5h1M647 229.5h1M870 121.5h1M263 311.5h2M281 311.5h1M401 311.5h2M543 311.5h2M511 320.5h7M525 320.5h5M112 194.5h1M169 194.5h1M679 194.5h1M792 194.5h2M803 194.5h2M198 235.5h1M639 235.5h2M273 316.5h4M407 316.5h1M418 316.5h4M448 316.5h7M460 316.5h4M474 316.5h2M485 316.5h12M536 316.5h2M114 190.5h1M165 190.5h1M683 190.5h2M784 190.5h2M811 190.5h2M897 93.5h1M255 302.5h1M322 302.5h4M352 302.5h1M554 302.5h1M117 186.5h1M155 186.5h2M689 186.5h1M777 186.5h1M818 186.5h1M235 293.5h2M561 293.5h1M247 298.5h2M332 298.5h2M347 298.5h1M557 298.5h1M121 180.5h1M147 180.5h1M698 180.5h1M769 180.5h2M825 180.5h2M258 305.5h1M290 305.5h4M299 305.5h4M308 305.5h5M357 305.5h2M364 305.5h7M378 305.5h5M551 305.5h1M269 315.5h4M277 315.5h1M406 315.5h1M422 315.5h5M441 315.5h7M455 315.5h5M476 315.5h2M481 315.5h4M538 315.5h1M120 182.5h1M150 182.5h1M696 182.5h1M772 182.5h1M823 182.5h1M190 227.5h1M649 227.5h1M890 99.5h1M506 319.5h5M518 319.5h7M530 319.5h2M115 189.5h1M163 189.5h2M685 189.5h1M782 189.5h2M813 189.5h2M129 173.5h8M706 173.5h2M758 173.5h2M832 173.5h1M253 301.5h2M326 301.5h2M351 301.5h1M554 301.5h1M881 108.5h1M100 217.5h1M183 217.5h1M656 217.5h1M708 172.5h2M754 172.5h4M833 172.5h1M259 307.5h1M286 307.5h2M387 307.5h5M550 307.5h1M124 177.5h1M143 177.5h1M701 177.5h1M766 177.5h1M829 177.5h1M241 296.5h2M338 296.5h5M559 296.5h1M99 219.5h1M184 219.5h1M655 219.5h1M260 308.5h1M284 308.5h2M392 308.5h5M549 308.5h1M102 215.5h1M182 215.5h1M658 215.5h1M850 147.5h1M128 174.5h1M137 174.5h2M704 174.5h2M760 174.5h2M831 174.5h1M227 284.5h1M568 284.5h1M118 185.5h1M154 185.5h1M690 185.5h2M776 185.5h1M819 185.5h1M249 299.5h2M330 299.5h2M348 299.5h1M556 299.5h1M95 225.5h1M189 225.5h1M650 225.5h1M98 221.5h1M186 221.5h1M653 221.5h1M866 127.5h1M211 259.5h1M599 259.5h2M201 239.5h1M630 239.5h2M205 247.5h1M618 247.5h1M204 246.5h1M619 246.5h1M234 292.5h1M562 292.5h1M122 179.5h1M146 179.5h1M699 179.5h1M768 179.5h1M827 179.5h1M409 318.5h4M502 318.5h4M532 318.5h2M251 300.5h2M328 300.5h2M349 300.5h2M555 300.5h1M203 243.5h1M623 243.5h1M202 241.5h1M626 241.5h2M243 297.5h4M334 297.5h4M343 297.5h4M558 297.5h1M103 213.5h1M181 213.5h1M659 213.5h1M113 193.5h1M168 193.5h1M680 193.5h1M790 193.5h2M805 193.5h2M841 160.5h1M261 309.5h1M283 309.5h1M397 309.5h2M547 309.5h2M104 211.5h1M179 211.5h1M661 211.5h1M237 294.5h2M560 294.5h1M94 226.5h1M190 226.5h1M649 226.5h1M119 184.5h1M153 184.5h1M692 184.5h2M774 184.5h2M820 184.5h2M105 208.5h1M177 208.5h1M665 208.5h1M262 310.5h1M282 310.5h1M399 310.5h2M545 310.5h2M256 303.5h1M317 303.5h5M353 303.5h2M553 303.5h1M239 295.5h2M560 295.5h1M721 167.5h7M837 167.5h1M201 240.5h1M628 240.5h2M107 205.5h1M176 205.5h1M669 205.5h1M220 275.5h1M576 275.5h1M111 196.5h1M171 196.5h1M677 196.5h1M218 272.5h1M580 272.5h1M846 153.5h1M108 202.5h1M174 202.5h1M672 202.5h1M226 283.5h1M569 283.5h1M103 212.5h1M180 212.5h1M660 212.5h1M208 254.5h1M609 254.5h2M199 236.5h1M637 236.5h2M899 91.5h1M888 100.5h2M125 176.5h2M141 176.5h2M702 176.5h1M764 176.5h2M830 176.5h1M196 233.5h1M642 233.5h1M869 123.5h1M892 97.5h1M857 139.5h1M204 245.5h1M620 245.5h2M116 187.5h1M157 187.5h2M687 187.5h2M778 187.5h2M816 187.5h2M837 166.5h1M849 149.5h1M877 113.5h1M101 216.5h1M182 216.5h1M657 216.5h1M219 274.5h1M577 274.5h1M107 204.5h1M175 204.5h1M670 204.5h1M225 281.5h1M570 281.5h1M193 230.5h1M646 230.5h1M207 251.5h1M614 251.5h1M224 280.5h1M571 280.5h1M872 119.5h1M209 256.5h1M605 256.5h2M109 201.5h1M174 201.5h1M672 201.5h1M106 207.5h1M177 207.5h1M666 207.5h2M895 94.5h2M200 238.5h1M632 238.5h3M121 181.5h1M148 181.5h2M697 181.5h1M771 181.5h1M824 181.5h1M840 162.5h1M880 109.5h1M883 105.5h1M102 214.5h1M181 214.5h1M659 214.5h1M123 178.5h1M144 178.5h2M700 178.5h1M767 178.5h1M828 178.5h1M214 266.5h1M588 266.5h1M852 145.5h1M105 209.5h1M178 209.5h1M664 209.5h1M849 148.5h1M96 223.5h1M187 223.5h1M652 223.5h1M844 155.5h1M847 151.5h1M219 273.5h1M578 273.5h2M211 260.5h1M598 260.5h1M210 258.5h1M601 258.5h2M860 135.5h1M217 270.5h1M582 270.5h2M212 262.5h1M594 262.5h2M855 141.5h1M229 286.5h1M567 286.5h1M868 125.5h1M840 161.5h1M98 220.5h1M185 220.5h1M654 220.5h1M863 131.5h1M231 288.5h1M565 288.5h1M228 285.5h1M567 285.5h1M879 111.5h1M206 249.5h1M616 249.5h1M222 278.5h1M573 278.5h1M874 117.5h1M843 157.5h1M110 199.5h1M173 199.5h1M674 199.5h1M213 264.5h1M591 264.5h1M887 101.5h1M109 200.5h1M173 200.5h1M673 200.5h1M859 137.5h1M871 120.5h1M891 98.5h1M839 164.5h1M882 107.5h1M854 143.5h1M106 206.5h1M176 206.5h1M668 206.5h1M216 269.5h1M584 269.5h1M894 95.5h1M212 261.5h1M596 261.5h2M862 133.5h1M95 224.5h1M188 224.5h1M651 224.5h1M898 92.5h1M110 198.5h1M172 198.5h1M675 198.5h1M111 197.5h1M172 197.5h1M676 197.5h1M194 231.5h1M645 231.5h1M231 289.5h1M564 289.5h1M885 103.5h1M839 163.5h1M851 146.5h1M854 142.5h1M215 267.5h1M587 267.5h1M862 132.5h1M842 159.5h1M206 250.5h1M615 250.5h1M870 122.5h1M232 290.5h1M564 290.5h1M865 129.5h1M223 279.5h1M572 279.5h1M221 276.5h1M575 276.5h1M230 287.5h1M566 287.5h1M203 244.5h1M622 244.5h1M842 158.5h1M845 154.5h1M873 118.5h1M893 96.5h1M197 234.5h1M641 234.5h1M865 128.5h1M853 144.5h1M222 277.5h1M574 277.5h1M876 114.5h1M861 134.5h1M207 252.5h1M613 252.5h1M868 124.5h1M884 104.5h1M100 218.5h1M184 218.5h1M656 218.5h1M848 150.5h1M233 291.5h1M563 291.5h1M864 130.5h1M856 140.5h1M859 136.5h1M867 126.5h1M880 110.5h1M883 106.5h1M875 116.5h1M878 112.5h1M844 156.5h1M847 152.5h1M886 102.5h1M838 165.5h1" fill="none" stroke="#e8e020" stroke-width="1" shape-rendering="crispEdges"/>
<path d="M266 268.5h1M632 268.5h1M758 181.5h26M798 181.5h12M292 289.5h2M600 289.5h4M481 316.5h4M497 316.5h7M511 316.5h7M525 316.5h7M537 316.5h4M352 309.5h3M420 309.5h40M554 309.5h2M110 258.5h1M257 258.5h1M643 258.5h2M121 247.5h1M246 247.5h2M655 247.5h1M274 276.5h1M623 276.5h1M731 192.5h2M298 292.5h2M593 292.5h2M485 317.5h12M518 317.5h7M532 317.5h5M102 263.5h2M261 263.5h1M638 263.5h1M137 230.5h1M225 230.5h1M675 230.5h1M290 288.5h2M604 288.5h2M724 197.5h1M478 315.5h3M504 315.5h7M541 315.5h3M114 255.5h1M254 255.5h1M647 255.5h1M126 242.5h1M239 242.5h2M660 242.5h1M747 186.5h2M342 305.5h2M366 305.5h5M385 305.5h14M562 305.5h2M346 307.5h2M359 307.5h3M406 307.5h7M558 307.5h2M310 298.5h5M572 298.5h4M322 300.5h7M569 300.5h1M161 214.5h2M211 214.5h1M696 214.5h1M119 249.5h1M249 249.5h1M653 249.5h1M784 180.5h14M810 180.5h4M273 275.5h1M624 275.5h2M469 313.5h5M548 313.5h2M106 261.5h2M259 261.5h1M640 261.5h1M134 233.5h1M228 233.5h1M671 233.5h2M742 188.5h2M329 301.5h5M568 301.5h1M177 208.5h12M201 208.5h2M703 208.5h1M348 308.5h4M355 308.5h4M413 308.5h7M556 308.5h2M109 259.5h1M258 259.5h1M642 259.5h1M300 293.5h2M590 293.5h3M856 165.5h3M893 141.5h1M147 222.5h1M218 222.5h1M685 222.5h1M108 260.5h1M259 260.5h1M641 260.5h1M146 223.5h1M219 223.5h1M683 223.5h2M138 229.5h1M224 229.5h1M676 229.5h1M876 155.5h2M268 270.5h1M630 270.5h1M821 176.5h3M128 239.5h1M235 239.5h2M664 239.5h1M127 240.5h1M237 240.5h1M662 240.5h2M141 227.5h1M223 227.5h1M678 227.5h2M189 207.5h12M704 207.5h2M306 296.5h2M579 296.5h4M728 194.5h1M845 168.5h4M98 265.5h2M263 265.5h1M635 265.5h1M119 250.5h1M250 250.5h1M652 250.5h1M144 224.5h2M220 224.5h1M682 224.5h1M272 274.5h1M626 274.5h1M163 213.5h3M209 213.5h2M697 213.5h1M118 251.5h1M251 251.5h1M651 251.5h1M94 267.5h2M265 267.5h1M633 267.5h1M157 216.5h2M213 216.5h1M693 216.5h1M828 174.5h3M148 221.5h2M217 221.5h1M686 221.5h1M474 314.5h4M544 314.5h4M284 284.5h2M612 284.5h1M340 304.5h2M371 304.5h14M564 304.5h1M302 294.5h2M586 294.5h4M852 166.5h4M737 190.5h3M117 252.5h1M252 252.5h1M650 252.5h1M344 306.5h2M362 306.5h4M399 306.5h7M560 306.5h2M460 310.5h2M553 310.5h1M315 299.5h7M570 299.5h2M150 220.5h1M217 220.5h1M687 220.5h2M880 152.5h1M115 254.5h1M253 254.5h1M648 254.5h1M872 157.5h2M754 183.5h2M863 162.5h2M168 211.5h2M207 211.5h1M699 211.5h2M155 217.5h2M214 217.5h1M692 217.5h1M884 149.5h1M139 228.5h2M224 228.5h1M677 228.5h1M814 179.5h3M749 185.5h2M283 283.5h1M613 283.5h2M276 278.5h1M620 278.5h2M733 191.5h4M104 262.5h2M260 262.5h1M639 262.5h1M123 245.5h1M244 245.5h1M657 245.5h1M170 210.5h3M205 210.5h2M701 210.5h1M334 302.5h4M566 302.5h2M129 238.5h1M234 238.5h1M665 238.5h1M740 189.5h2M824 175.5h4M464 312.5h5M550 312.5h2M279 280.5h1M617 280.5h2M859 164.5h2M100 264.5h2M262 264.5h1M636 264.5h2M338 303.5h2M565 303.5h1M111 257.5h2M256 257.5h1M645 257.5h1M124 244.5h1M242 244.5h2M658 244.5h1M895 139.5h2M831 173.5h4M725 196.5h2M132 235.5h1M230 235.5h2M669 235.5h1M308 297.5h2M576 297.5h3M173 209.5h4M203 209.5h2M702 209.5h1M729 193.5h2M151 219.5h2M216 219.5h1M689 219.5h1M722 198.5h2M131 236.5h1M232 236.5h1M668 236.5h1M159 215.5h2M212 215.5h1M694 215.5h2M304 295.5h2M583 295.5h3M849 167.5h3M116 253.5h1M252 253.5h1M649 253.5h1M136 231.5h1M226 231.5h1M674 231.5h1M267 269.5h1M631 269.5h1M96 266.5h2M264 266.5h1M634 266.5h1M135 232.5h1M227 232.5h1M673 232.5h1M756 182.5h2M125 243.5h1M241 243.5h1M659 243.5h1M842 169.5h3M886 147.5h1M874 156.5h2M718 200.5h2M275 277.5h1M622 277.5h1M879 153.5h1M817 178.5h2M871 158.5h1M288 287.5h2M606 287.5h2M751 184.5h3M166 212.5h2M208 212.5h1M698 212.5h1M897 138.5h1M714 202.5h2M890 144.5h1M867 160.5h2M720 199.5h2M296 291.5h2M595 291.5h2M130 237.5h1M233 237.5h1M666 237.5h2M835 172.5h3M271 273.5h1M627 273.5h1M126 241.5h1M238 241.5h1M661 241.5h1M133 234.5h1M229 234.5h1M670 234.5h1M281 282.5h2M615 282.5h1M280 281.5h1M616 281.5h1M287 286.5h1M608 286.5h2M153 218.5h2M215 218.5h1M690 218.5h2M744 187.5h3M716 201.5h2M294 290.5h2M597 290.5h3M269 271.5h1M629 271.5h1M712 203.5h2M819 177.5h2M270 272.5h1M628 272.5h1M113 256.5h1M255 256.5h1M646 256.5h1M142 226.5h1M222 226.5h1M680 226.5h1M120 248.5h1M248 248.5h1M654 248.5h1M277 279.5h2M619 279.5h1M143 225.5h1M221 225.5h1M681 225.5h1M899 136.5h1M888 145.5h2M708 205.5h2M462 311.5h2M552 311.5h1M869 159.5h2M892 142.5h1M838 171.5h2M881 151.5h2M286 285.5h1M610 285.5h2M861 163.5h2M865 161.5h2M840 170.5h2M883 150.5h1M727 195.5h1M710 204.5h2M122 246.5h1M245 246.5h1M656 246.5h1M706 206.5h2M887 146.5h1M891 143.5h1M878 154.5h1M894 140.5h1M898 137.5h1M885 148.5h1" fill="none" stroke="#e020e0" stroke-width="1" shape-rendering="crispEdges"/>
<path d="M238 242.5h4M790 242.5h3M509 297.5h2M616 297.5h4M339 268.5h5M370 268.5h9M408 268.5h8M707 268.5h2M194 227.5h4M826 227.5h2M257 247.5h3M774 247.5h4M348 270.5h10M424 270.5h8M702 270.5h2M312 262.5h4M722 262.5h2M549 305.5h35M301 259.5h3M730 259.5h3M215 236.5h3M806 236.5h2M432 271.5h6M699 271.5h3M146 222.5h25M836 222.5h2M471 282.5h4M670 282.5h4M344 269.5h4M358 269.5h12M416 269.5h8M704 269.5h3M520 301.5h4M599 301.5h4M528 303.5h9M590 303.5h4M537 304.5h12M584 304.5h6M288 255.5h4M743 255.5h3M489 288.5h2M649 288.5h3M222 238.5h4M802 238.5h2M171 223.5h5M834 223.5h2M325 265.5h5M714 265.5h3M94 220.5h23M840 220.5h2M516 300.5h4M603 300.5h5M334 267.5h5M379 267.5h29M709 267.5h3M295 257.5h3M736 257.5h4M268 250.5h4M761 250.5h4M330 266.5h4M712 266.5h2M253 246.5h4M778 246.5h4M858 210.5h2M887 192.5h1M879 197.5h2M871 202.5h2M308 261.5h4M724 261.5h3M891 189.5h2M467 281.5h4M674 281.5h4M246 244.5h3M785 244.5h3M117 221.5h29M838 221.5h2M264 249.5h4M765 249.5h5M457 277.5h2M686 277.5h2M445 273.5h5M695 273.5h2M189 226.5h5M828 226.5h2M475 283.5h4M666 283.5h4M494 290.5h2M645 290.5h2M230 240.5h4M796 240.5h3M504 295.5h3M624 295.5h4M218 237.5h4M804 237.5h2M276 252.5h4M753 252.5h4M863 207.5h2M524 302.5h4M594 302.5h5M855 212.5h1M846 217.5h2M249 245.5h4M782 245.5h3M209 233.5h2M813 233.5h2M484 286.5h2M654 286.5h4M500 293.5h2M633 293.5h4M511 298.5h3M612 298.5h4M292 256.5h3M740 256.5h3M213 235.5h2M808 235.5h3M896 186.5h2M272 251.5h4M757 251.5h4M438 272.5h7M697 272.5h2M462 279.5h2M682 279.5h2M479 284.5h3M662 284.5h4M321 264.5h4M717 264.5h2M234 241.5h4M793 241.5h3M507 296.5h2M620 296.5h4M260 248.5h4M770 248.5h4M198 228.5h3M824 228.5h2M482 285.5h2M658 285.5h4M280 253.5h4M749 253.5h4M304 260.5h4M727 260.5h3M226 239.5h4M799 239.5h3M851 214.5h2M502 294.5h2M628 294.5h5M298 258.5h3M733 258.5h3M842 219.5h2M514 299.5h2M608 299.5h4M316 263.5h5M719 263.5h3M498 292.5h2M637 292.5h4M176 224.5h6M832 224.5h2M893 188.5h1M885 193.5h2M450 274.5h2M693 274.5h2M491 289.5h3M647 289.5h2M242 243.5h4M788 243.5h2M873 201.5h2M203 230.5h2M820 230.5h2M878 198.5h1M496 291.5h2M641 291.5h4M486 287.5h3M652 287.5h2M211 234.5h2M811 234.5h2M459 278.5h3M684 278.5h2M182 225.5h7M830 225.5h2M464 280.5h3M678 280.5h4M870 203.5h1M207 232.5h2M815 232.5h3M861 208.5h2M853 213.5h2M882 195.5h2M284 254.5h4M746 254.5h3M455 276.5h2M688 276.5h2M850 215.5h1M201 229.5h2M822 229.5h2M452 275.5h3M690 275.5h3M205 231.5h2M818 231.5h2M884 194.5h1M876 199.5h2M888 191.5h2M868 204.5h2M860 209.5h1M856 211.5h2M848 216.5h2M866 205.5h2M898 185.5h1M890 190.5h1M844 218.5h2M894 187.5h2M875 200.5h1M881 196.5h1M865 206.5h1" fill="none" stroke="#22dd22" stroke-width="1" shape-rendering="crispEdges"/>
<path d="M150 216.5h24M395 242.5h3M897 242.5h2M463 258.5h10M738 258.5h8M785 258.5h36M113 215.5h37M535 270.5h8M685 270.5h4M458 257.5h5M746 257.5h39M821 257.5h12M601 276.5h58M473 259.5h10M730 259.5h8M498 263.5h5M711 263.5h4M508 265.5h5M703 265.5h4M362 237.5h8M269 226.5h6M418 249.5h5M870 249.5h4M543 271.5h8M682 271.5h3M453 256.5h5M833 256.5h8M370 238.5h8M386 240.5h6M344 234.5h6M275 227.5h6M551 272.5h17M677 272.5h5M222 221.5h12M392 241.5h3M295 230.5h8M568 273.5h17M671 273.5h6M493 262.5h5M715 262.5h4M253 224.5h8M94 214.5h19M174 217.5h12M443 254.5h5M846 254.5h5M405 245.5h3M886 245.5h3M287 229.5h8M186 218.5h12M593 275.5h8M659 275.5h6M513 266.5h5M699 266.5h4M328 233.5h16M438 253.5h5M851 253.5h5M210 220.5h12M311 232.5h17M198 219.5h12M401 244.5h4M889 244.5h4M483 260.5h5M723 260.5h7M414 248.5h4M874 248.5h4M350 235.5h6M281 228.5h6M528 269.5h7M689 269.5h3M585 274.5h8M665 274.5h6M433 252.5h5M856 252.5h5M261 225.5h8M411 247.5h3M878 247.5h4M303 231.5h8M398 243.5h3M893 243.5h4M378 239.5h8M428 251.5h5M861 251.5h5M423 250.5h5M866 250.5h4M356 236.5h6M523 268.5h5M692 268.5h3M503 264.5h5M707 264.5h4M245 223.5h8M234 222.5h11M408 246.5h3M882 246.5h4M488 261.5h5M719 261.5h4M518 267.5h5M695 267.5h4M448 255.5h5M841 255.5h5" fill="none" stroke="#808080" stroke-width="1" shape-rendering="crispEdges"/>
<path d="M590 217.5h6M288 168.5h5M261 162.5h3M372 184.5h4M477 204.5h8M343 178.5h5M493 206.5h8M94 122.5h3M510 208.5h8M251 159.5h4M790 236.5h30M695 227.5h12M719 229.5h11M610 220.5h8M501 207.5h9M769 234.5h11M832 234.5h36M730 230.5h8M894 230.5h5M233 154.5h5M213 150.5h5M255 160.5h3M431 197.5h6M637 223.5h12M668 225.5h17M384 187.5h4M526 210.5h11M444 199.5h6M134 131.5h5M106 125.5h5M175 141.5h4M649 224.5h19M685 226.5h10M537 211.5h12M560 213.5h8M450 200.5h6M746 232.5h11M876 232.5h9M602 219.5h8M397 190.5h4M780 235.5h10M820 235.5h12M139 132.5h4M120 128.5h5M549 212.5h11M264 163.5h4M348 179.5h5M325 175.5h6M419 195.5h6M401 191.5h4M518 209.5h8M469 203.5h8M757 233.5h12M868 233.5h8M738 231.5h8M885 231.5h9M707 228.5h12M152 135.5h4M298 170.5h5M576 215.5h8M268 164.5h5M278 166.5h5M380 186.5h4M363 182.5h5M462 202.5h7M331 176.5h6M101 124.5h5M199 147.5h4M218 151.5h5M283 167.5h5M485 205.5h8M223 152.5h5M203 148.5h5M568 214.5h8M143 133.5h5M125 129.5h4M183 143.5h4M238 155.5h4M437 198.5h7M405 192.5h4M156 136.5h4M313 173.5h6M596 218.5h6M368 183.5h4M160 137.5h4M248 158.5h3M626 222.5h11M242 156.5h3M618 221.5h8M245 157.5h3M425 196.5h6M164 138.5h4M187 144.5h4M293 169.5h5M303 171.5h5M273 165.5h5M584 216.5h6M97 123.5h4M168 139.5h4M388 188.5h5M129 130.5h5M337 177.5h6M228 153.5h5M409 193.5h4M319 174.5h6M353 180.5h5M208 149.5h5M191 145.5h4M413 194.5h6M172 140.5h3M195 146.5h4M393 189.5h4M376 185.5h4M456 201.5h6M115 127.5h5M148 134.5h4M358 181.5h5M308 172.5h5M179 142.5h4M258 161.5h3M111 126.5h4" fill="none" stroke="#ff3030" stroke-width="1" shape-rendering="crispEdges"/>
<g shape-rendering="crispEdges" fill="#fff">
<rect x="106" y="145" width="7" height="1"/><rect x="108" y="143" width="1" height="4"/>
<rect x="890" y="59" width="7" height="1"/><rect x="892" y="57" width="1" height="4"/>
<rect x="218" y="367" width="7" height="1"/><rect x="220" y="365" width="1" height="4"/>
</g>
<circle cx="116.9" cy="30" r="1.9" fill="#1e88e0"/>
<circle cx="145.2" cy="30" r="1.9" fill="#1e88e0"/>
<circle cx="221.8" cy="30" r="1.9" fill="#1e88e0"/>
<circle cx="347.7" cy="30" r="1.9" fill="#1e88e0"/>
<circle cx="354.8" cy="30" r="1.9" fill="#1e88e0"/>
<circle cx="361.8" cy="30" r="1.9" fill="#1e88e0"/>
<circle cx="418" cy="30" r="1.9" fill="#1e88e0"/>
<circle cx="509" cy="30" r="1.9" fill="#1e88e0"/>
<circle cx="558" cy="30" r="1.9" fill="#1e88e0"/>
<circle cx="565" cy="30" r="1.9" fill="#1e88e0"/>
<circle cx="572" cy="30" r="1.9" fill="#1e88e0"/>
<circle cx="642.1" cy="30" r="1.9" fill="#1e88e0"/>
<circle cx="648.8" cy="30" r="1.9" fill="#1e88e0"/>
<circle cx="662.9" cy="30" r="1.9" fill="#1e88e0"/>
<circle cx="796" cy="30" r="1.9" fill="#1e88e0"/>
<circle cx="887" cy="30" r="1.9" fill="#1e88e0"/>
<g shape-rendering="crispEdges">
<rect x="94" y="414" width="1" height="53" fill="#ff3250"/>
<rect x="101" y="415" width="1" height="52" fill="#ff3250"/>
<rect x="108" y="415" width="1" height="52" fill="#ff3250"/>
<rect x="115" y="420" width="1" height="47" fill="#ff3250"/>
<rect x="122" y="425" width="1" height="42" fill="#ff3250"/>
<rect x="129" y="435" width="1" height="32" fill="#ff3250"/>
<rect x="136" y="444" width="1" height="23" fill="#ff3250"/>
<rect x="143" y="457" width="1" height="10" fill="#ff3250"/>
<rect x="150" y="466" width="1" height="7" fill="#3dd284"/>
<rect x="157" y="466" width="1" height="14" fill="#3dd284"/>
<rect x="164" y="466" width="1" height="16" fill="#3dd284"/>
<rect x="171" y="466" width="1" height="22" fill="#3dd284"/>
<rect x="178" y="466" width="1" height="33" fill="#3dd284"/>
<rect x="185" y="466" width="1" height="36" fill="#3dd284"/>
<rect x="192" y="466" width="1" height="32" fill="#3dd284"/>
<rect x="199" y="466" width="1" height="29" fill="#3dd284"/>
<rect x="206" y="466" width="1" height="38" fill="#3dd284"/>
<rect x="213" y="466" width="1" height="52" fill="#3dd284"/>
<rect x="220" y="466" width="1" height="54" fill="#3dd284"/>
<rect x="227" y="466" width="1" height="46" fill="#3dd284"/>
<rect x="234" y="466" width="1" height="34" fill="#3dd284"/>
<rect x="241" y="466" width="1" height="22" fill="#3dd284"/>
<rect x="248" y="466" width="1" height="16" fill="#3dd284"/>
<rect x="255" y="466" width="1" height="13" fill="#3dd284"/>
<rect x="262" y="466" width="1" height="14" fill="#3dd284"/>
<rect x="269" y="466" width="1" height="9" fill="#3dd284"/>
<rect x="276" y="466" width="1" height="7" fill="#3dd284"/>
<rect x="283" y="465" width="1" height="2" fill="#ff3250"/>
<rect x="290" y="462" width="1" height="5" fill="#ff3250"/>
<rect x="297" y="461" width="1" height="6" fill="#ff3250"/>
<rect x="304" y="459" width="1" height="8" fill="#ff3250"/>
<rect x="311" y="454" width="1" height="13" fill="#ff3250"/>
<rect x="318" y="448" width="1" height="19" fill="#ff3250"/>
<rect x="325" y="450" width="1" height="17" fill="#ff3250"/>
<rect x="332" y="449" width="1" height="18" fill="#ff3250"/>
<rect x="339" y="449" width="1" height="18" fill="#ff3250"/>
<rect x="346" y="459" width="1" height="8" fill="#ff3250"/>
<rect x="353" y="466" width="1" height="4" fill="#3dd284"/>
<rect x="360" y="466" width="1" height="4" fill="#3dd284"/>
<rect x="367" y="464" width="1" height="3" fill="#ff3250"/>
<rect x="374" y="459" width="1" height="8" fill="#ff3250"/>
<rect x="381" y="457" width="1" height="10" fill="#ff3250"/>
<rect x="388" y="454" width="1" height="13" fill="#ff3250"/>
<rect x="395" y="456" width="1" height="11" fill="#ff3250"/>
<rect x="402" y="459" width="1" height="8" fill="#ff3250"/>
<rect x="409" y="466" width="1" height="4" fill="#3dd284"/>
<rect x="416" y="466" width="1" height="4" fill="#3dd284"/>
<rect x="423" y="466" width="1" height="6" fill="#3dd284"/>
<rect x="430" y="465" width="1" height="2" fill="#ff3250"/>
<rect x="437" y="460" width="1" height="7" fill="#ff3250"/>
<rect x="444" y="457" width="1" height="10" fill="#ff3250"/>
<rect x="451" y="457" width="1" height="10" fill="#ff3250"/>
<rect x="458" y="453" width="1" height="14" fill="#ff3250"/>
<rect x="465" y="458" width="1" height="9" fill="#ff3250"/>
<rect x="472" y="461" width="1" height="6" fill="#ff3250"/>
<rect x="479" y="463" width="1" height="4" fill="#ff3250"/>
<rect x="486" y="466" width="1" height="4" fill="#3dd284"/>
<rect x="493" y="466" width="1" height="5" fill="#3dd284"/>
<rect x="500" y="466" width="1" height="3" fill="#3dd284"/>
<rect x="507" y="465" width="1" height="2" fill="#ff3250"/>
<rect x="514" y="463" width="1" height="4" fill="#ff3250"/>
<rect x="521" y="459" width="1" height="8" fill="#ff3250"/>
<rect x="528" y="455" width="1" height="12" fill="#ff3250"/>
<rect x="535" y="453" width="1" height="14" fill="#ff3250"/>
<rect x="542" y="448" width="1" height="19" fill="#ff3250"/>
<rect x="549" y="446" width="1" height="21" fill="#ff3250"/>
<rect x="556" y="442" width="1" height="25" fill="#ff3250"/>
<rect x="563" y="438" width="1" height="29" fill="#ff3250"/>
<rect x="570" y="434" width="1" height="33" fill="#ff3250"/>
<rect x="577" y="438" width="1" height="29" fill="#ff3250"/>
<rect x="584" y="445" width="1" height="22" fill="#ff3250"/>
<rect x="591" y="448" width="1" height="19" fill="#ff3250"/>
<rect x="598" y="451" width="1" height="16" fill="#ff3250"/>
<rect x="605" y="455" width="1" height="12" fill="#ff3250"/>
<rect x="612" y="455" width="1" height="12" fill="#ff3250"/>
<rect x="619" y="451" width="1" height="16" fill="#ff3250"/>
<rect x="626" y="447" width="1" height="20" fill="#ff3250"/>
<rect x="633" y="448" width="1" height="19" fill="#ff3250"/>
<rect x="640" y="448" width="1" height="19" fill="#ff3250"/>
<rect x="647" y="447" width="1" height="20" fill="#ff3250"/>
<rect x="654" y="445" width="1" height="22" fill="#ff3250"/>
<rect x="661" y="444" width="1" height="23" fill="#ff3250"/>
<rect x="668" y="452" width="1" height="15" fill="#ff3250"/>
<rect x="675" y="453" width="1" height="14" fill="#ff3250"/>
<rect x="682" y="453" width="1" height="14" fill="#ff3250"/>
<rect x="689" y="455" width="1" height="12" fill="#ff3250"/>
<rect x="696" y="457" width="1" height="10" fill="#ff3250"/>
<rect x="703" y="455" width="1" height="12" fill="#ff3250"/>
<rect x="710" y="459" width="1" height="8" fill="#ff3250"/>
<rect x="717" y="462" width="1" height="5" fill="#ff3250"/>
<rect x="724" y="465" width="1" height="2" fill="#ff3250"/>
<rect x="731" y="466" width="1" height="7" fill="#3dd284"/>
<rect x="738" y="466" width="1" height="16" fill="#3dd284"/>
<rect x="745" y="466" width="1" height="21" fill="#3dd284"/>
<rect x="752" y="466" width="1" height="21" fill="#3dd284"/>
<rect x="759" y="466" width="1" height="21" fill="#3dd284"/>
<rect x="766" y="466" width="1" height="25" fill="#3dd284"/>
<rect x="773" y="466" width="1" height="27" fill="#3dd284"/>
<rect x="780" y="466" width="1" height="29" fill="#3dd284"/>
<rect x="787" y="466" width="1" height="25" fill="#3dd284"/>
<rect x="794" y="466" width="1" height="22" fill="#3dd284"/>
<rect x="801" y="466" width="1" height="17" fill="#3dd284"/>
<rect x="808" y="466" width="1" height="12" fill="#3dd284"/>
<rect x="815" y="466" width="1" height="5" fill="#3dd284"/>
<rect x="822" y="459" width="1" height="8" fill="#ff3250"/>
<rect x="829" y="453" width="1" height="14" fill="#ff3250"/>
<rect x="836" y="447" width="1" height="20" fill="#ff3250"/>
<rect x="843" y="444" width="1" height="23" fill="#ff3250"/>
<rect x="850" y="445" width="1" height="22" fill="#ff3250"/>
<rect x="857" y="446" width="1" height="21" fill="#ff3250"/>
<rect x="864" y="448" width="1" height="19" fill="#ff3250"/>
<rect x="871" y="447" width="1" height="20" fill="#ff3250"/>
<rect x="878" y="449" width="1" height="18" fill="#ff3250"/>
<rect x="885" y="447" width="1" height="20" fill="#ff3250"/>
<rect x="892" y="447" width="1" height="20" fill="#ff3250"/>
<rect x="899" y="449" width="1" height="18" fill="#ff3250"/>
</g>
<path d="M218 505.5h1M236 505.5h4M261 505.5h5M201 479.5h1M385 479.5h2M399 479.5h4M436 479.5h3M490 479.5h12M644 425.5h2M734 425.5h1M856 425.5h5M698 415.5h4M707 415.5h7M887 415.5h4M194 475.5h2M450 475.5h3M476 475.5h5M513 475.5h3M164 454.5h1M556 454.5h1M786 454.5h5M798 454.5h7M108 434.5h1M141 434.5h1M619 434.5h1M745 434.5h2M834 434.5h2M175 463.5h1M540 463.5h2M106 436.5h1M143 436.5h1M616 436.5h1M751 436.5h2M832 436.5h1M102 439.5h1M145 439.5h1M611 439.5h2M757 439.5h2M827 439.5h2M212 498.5h1M289 498.5h5M204 484.5h1M322 484.5h5M346 484.5h1M373 484.5h3M409 484.5h4M426 484.5h2M165 455.5h2M554 455.5h2M791 455.5h7M205 485.5h1M318 485.5h4M347 485.5h1M371 485.5h2M413 485.5h7M424 485.5h2M648 423.5h2M732 423.5h1M866 423.5h2M158 451.5h2M559 451.5h2M777 451.5h2M811 451.5h2M180 468.5h1M530 468.5h4M189 474.5h5M453 474.5h2M464 474.5h12M516 474.5h2M113 431.5h2M137 431.5h1M624 431.5h2M741 431.5h1M839 431.5h1M99 441.5h2M147 441.5h1M570 441.5h4M579 441.5h4M586 441.5h4M602 441.5h5M760 441.5h2M825 441.5h1M702 414.5h5M891 414.5h5M101 440.5h1M146 440.5h1M574 440.5h5M590 440.5h12M607 440.5h4M759 440.5h1M826 440.5h1M121 427.5h3M639 427.5h3M736 427.5h1M847 427.5h5M109 433.5h2M139 433.5h2M620 433.5h2M743 433.5h2M836 433.5h1M200 478.5h1M387 478.5h12M439 478.5h4M485 478.5h5M502 478.5h4M217 504.5h1M240 504.5h3M257 504.5h4M266 504.5h11M160 452.5h2M558 452.5h1M779 452.5h3M809 452.5h2M117 429.5h2M128 429.5h5M630 429.5h5M738 429.5h1M841 429.5h2M216 503.5h1M243 503.5h4M252 503.5h5M277 503.5h2M208 490.5h1M312 490.5h1M353 490.5h9M213 499.5h1M285 499.5h4M198 477.5h2M443 477.5h3M483 477.5h2M506 477.5h3M184 472.5h1M457 472.5h3M520 472.5h3M220 508.5h9M162 453.5h2M557 453.5h1M782 453.5h4M805 453.5h4M650 422.5h2M731 422.5h1M868 422.5h2M176 464.5h1M539 464.5h1M157 450.5h1M561 450.5h1M775 450.5h2M813 450.5h2M185 473.5h4M455 473.5h2M460 473.5h4M518 473.5h2M206 486.5h1M317 486.5h1M348 486.5h1M369 486.5h2M420 486.5h4M203 482.5h1M331 482.5h3M342 482.5h2M378 482.5h2M406 482.5h1M430 482.5h2M207 488.5h1M314 488.5h2M351 488.5h1M364 488.5h2M119 428.5h2M124 428.5h4M635 428.5h4M737 428.5h1M843 428.5h4M686 416.5h12M714 416.5h5M884 416.5h3M654 420.5h2M667 420.5h5M727 420.5h2M873 420.5h4M219 507.5h1M229 507.5h4M183 471.5h1M523 471.5h2M210 493.5h1M307 493.5h2M201 480.5h1M338 480.5h2M383 480.5h2M403 480.5h2M434 480.5h2M103 438.5h1M145 438.5h1M613 438.5h2M755 438.5h2M829 438.5h1M658 418.5h2M663 418.5h2M677 418.5h4M723 418.5h2M880 418.5h2M115 430.5h2M133 430.5h4M626 430.5h4M739 430.5h2M840 430.5h1M155 449.5h2M562 449.5h1M773 449.5h2M815 449.5h1M107 435.5h1M142 435.5h1M617 435.5h2M747 435.5h4M833 435.5h1M97 443.5h1M148 443.5h1M568 443.5h1M764 443.5h2M822 443.5h1M209 492.5h1M309 492.5h2M153 447.5h1M564 447.5h1M770 447.5h1M817 447.5h1M646 424.5h2M733 424.5h1M861 424.5h5M204 483.5h1M327 483.5h4M344 483.5h2M376 483.5h2M407 483.5h2M428 483.5h2M175 462.5h1M542 462.5h2M212 497.5h1M294 497.5h5M154 448.5h1M563 448.5h1M771 448.5h2M816 448.5h1M169 457.5h2M552 457.5h1M642 426.5h2M735 426.5h1M852 426.5h4M656 419.5h2M665 419.5h2M672 419.5h5M725 419.5h2M877 419.5h3M215 502.5h1M247 502.5h5M279 502.5h2M151 446.5h2M565 446.5h1M769 446.5h1M818 446.5h2M211 495.5h1M303 495.5h2M660 417.5h3M681 417.5h5M719 417.5h4M882 417.5h2M202 481.5h1M334 481.5h4M340 481.5h2M380 481.5h3M405 481.5h1M432 481.5h2M207 487.5h1M316 487.5h1M349 487.5h2M366 487.5h3M181 469.5h1M527 469.5h3M111 432.5h2M138 432.5h1M622 432.5h2M742 432.5h1M837 432.5h2M209 491.5h1M311 491.5h1M94 445.5h1M150 445.5h1M566 445.5h1M767 445.5h2M820 445.5h1M172 459.5h1M548 459.5h2M104 437.5h2M144 437.5h1M615 437.5h1M753 437.5h2M830 437.5h2M211 496.5h1M299 496.5h4M179 467.5h1M534 467.5h2M95 444.5h2M149 444.5h1M567 444.5h1M766 444.5h1M821 444.5h1M652 421.5h2M729 421.5h2M870 421.5h3M218 506.5h1M233 506.5h3M215 501.5h1M281 501.5h2M208 489.5h1M313 489.5h1M352 489.5h1M362 489.5h2M178 466.5h1M536 466.5h2M98 442.5h1M148 442.5h1M569 442.5h1M583 442.5h3M762 442.5h2M823 442.5h2M196 476.5h2M446 476.5h4M481 476.5h2M509 476.5h4M896 413.5h4M171 458.5h1M550 458.5h2M167 456.5h2M553 456.5h1M214 500.5h1M283 500.5h2M173 460.5h1M546 460.5h2M177 465.5h1M538 465.5h1M174 461.5h1M544 461.5h2M182 470.5h1M525 470.5h2M210 494.5h1M305 494.5h2" fill="none" stroke="#ffffff" stroke-width="1" shape-rendering="crispEdges"/>
<path d="M266 499.5h7M294 499.5h7M123 448.5h2M172 448.5h2M593 448.5h4M812 448.5h7M217 477.5h1M462 477.5h28M511 477.5h7M119 451.5h1M178 451.5h1M583 451.5h3M111 457.5h2M188 457.5h2M571 457.5h2M140 440.5h7M625 440.5h3M782 440.5h2M842 440.5h3M132 443.5h2M159 443.5h4M614 443.5h4M789 443.5h2M835 443.5h3M635 436.5h4M773 436.5h2M854 436.5h2M134 442.5h2M154 442.5h5M618 442.5h3M786 442.5h3M838 442.5h2M225 484.5h1M385 484.5h7M413 484.5h19M127 446.5h2M168 446.5h2M602 446.5h5M798 446.5h7M824 446.5h4M649 432.5h4M765 432.5h2M866 432.5h4M630 438.5h2M777 438.5h2M849 438.5h3M639 435.5h3M771 435.5h2M856 435.5h3M96 470.5h1M209 470.5h2M544 470.5h2M238 492.5h2M324 492.5h3M104 463.5h2M200 463.5h2M559 463.5h2M707 418.5h21M136 441.5h4M147 441.5h7M621 441.5h4M784 441.5h2M840 441.5h2M691 421.5h4M737 421.5h3M898 421.5h2M273 500.5h21M243 494.5h4M317 494.5h3M252 496.5h5M310 496.5h3M95 471.5h1M211 471.5h1M541 471.5h3M115 454.5h1M183 454.5h2M577 454.5h2M642 434.5h4M769 434.5h2M859 434.5h4M223 483.5h2M392 483.5h7M406 483.5h7M432 483.5h4M236 491.5h2M327 491.5h4M656 430.5h2M761 430.5h2M873 430.5h2M218 478.5h1M457 478.5h5M490 478.5h21M660 428.5h5M756 428.5h2M877 428.5h3M234 490.5h2M331 490.5h3M653 431.5h3M763 431.5h2M870 431.5h3M222 482.5h1M399 482.5h7M436 482.5h5M120 450.5h2M176 450.5h2M586 450.5h4M100 467.5h1M206 467.5h1M551 467.5h2M665 427.5h5M754 427.5h2M880 427.5h4M102 465.5h1M203 465.5h1M555 465.5h2M681 423.5h5M744 423.5h3M891 423.5h3M129 445.5h1M166 445.5h2M607 445.5h4M793 445.5h5M828 445.5h3M118 452.5h1M179 452.5h2M581 452.5h2M230 488.5h2M338 488.5h5M350 488.5h19M213 473.5h1M532 473.5h5M240 493.5h3M320 493.5h4M232 489.5h2M334 489.5h4M125 447.5h2M170 447.5h2M597 447.5h5M805 447.5h7M819 447.5h5M628 439.5h2M779 439.5h3M845 439.5h4M116 453.5h2M181 453.5h2M579 453.5h2M658 429.5h2M758 429.5h3M875 429.5h2M686 422.5h5M740 422.5h4M894 422.5h4M130 444.5h2M163 444.5h3M611 444.5h3M791 444.5h2M831 444.5h4M228 487.5h2M343 487.5h7M369 487.5h4M114 455.5h1M185 455.5h1M575 455.5h2M221 481.5h1M441 481.5h7M216 476.5h1M518 476.5h5M261 498.5h5M301 498.5h5M674 425.5h3M749 425.5h2M887 425.5h2M646 433.5h3M767 433.5h2M863 433.5h3M632 437.5h3M775 437.5h2M852 437.5h2M219 479.5h1M453 479.5h4M257 497.5h4M306 497.5h4M122 449.5h1M174 449.5h2M590 449.5h3M700 419.5h7M728 419.5h5M214 474.5h1M527 474.5h5M247 495.5h5M313 495.5h4M670 426.5h4M751 426.5h3M884 426.5h3M220 480.5h1M448 480.5h5M103 464.5h1M202 464.5h1M557 464.5h2M227 486.5h1M373 486.5h5M215 475.5h1M523 475.5h4M107 461.5h1M196 461.5h2M563 461.5h2M101 466.5h1M204 466.5h2M553 466.5h2M226 485.5h1M378 485.5h7M99 468.5h1M207 468.5h1M548 468.5h3M106 462.5h1M198 462.5h2M561 462.5h2M94 472.5h1M212 472.5h1M537 472.5h4M109 459.5h1M192 459.5h2M567 459.5h2M108 460.5h1M194 460.5h2M565 460.5h2M695 420.5h5M733 420.5h4M110 458.5h1M190 458.5h2M569 458.5h2M677 424.5h4M747 424.5h2M889 424.5h2M97 469.5h2M208 469.5h1M546 469.5h2M113 456.5h1M186 456.5h2M573 456.5h2" fill="none" stroke="#e8e020" stroke-width="1" shape-rendering="crispEdges"/>
<path d="M98 564.5h2M120 564.5h2M551 564.5h4M577 564.5h1M642 564.5h2M666 564.5h1M681 564.5h5M698 564.5h2M706 564.5h2M822 564.5h4M131 579.5h1M283 579.5h4M308 579.5h1M341 579.5h1M387 579.5h5M452 579.5h1M466 579.5h2M522 579.5h1M603 579.5h2M607 579.5h4M732 579.5h1M806 579.5h1M136 585.5h1M277 585.5h1M344 585.5h1M372 585.5h1M403 585.5h1M437 585.5h1M477 585.5h2M516 585.5h1M735 585.5h1M801 585.5h1M96 565.5h2M122 565.5h1M546 565.5h5M578 565.5h1M639 565.5h3M667 565.5h1M677 565.5h4M686 565.5h12M708 565.5h2M820 565.5h2M140 590.5h1M247 590.5h10M265 590.5h2M348 590.5h1M366 590.5h1M407 590.5h1M433 590.5h1M483 590.5h1M505 590.5h2M738 590.5h1M797 590.5h1M142 594.5h1M240 594.5h1M351 594.5h1M362 594.5h1M411 594.5h4M428 594.5h2M488 594.5h4M495 594.5h4M742 594.5h1M793 594.5h1M103 562.5h4M116 562.5h2M560 562.5h5M573 562.5h2M646 562.5h5M664 562.5h1M702 562.5h2M833 562.5h7M845 562.5h4M854 562.5h14M873 562.5h4M880 562.5h2M150 603.5h2M233 603.5h1M765 603.5h1M782 603.5h1M128 576.5h1M310 576.5h1M336 576.5h4M455 576.5h1M462 576.5h1M525 576.5h1M599 576.5h2M614 576.5h1M730 576.5h1M809 576.5h1M143 595.5h1M239 595.5h1M351 595.5h1M361 595.5h1M415 595.5h3M426 595.5h2M492 595.5h3M743 595.5h2M792 595.5h1M100 563.5h3M118 563.5h2M555 563.5h5M575 563.5h2M644 563.5h2M665 563.5h1M700 563.5h2M704 563.5h2M826 563.5h7M849 563.5h5M877 563.5h3M133 581.5h1M281 581.5h1M292 581.5h4M306 581.5h1M342 581.5h1M383 581.5h2M397 581.5h2M444 581.5h4M470 581.5h2M520 581.5h1M733 581.5h1M805 581.5h1M133 582.5h1M280 582.5h1M296 582.5h5M305 582.5h1M343 582.5h1M378 582.5h5M399 582.5h2M442 582.5h2M472 582.5h1M519 582.5h1M734 582.5h1M804 582.5h1M137 587.5h1M269 587.5h4M345 587.5h1M369 587.5h1M405 587.5h1M435 587.5h1M480 587.5h1M513 587.5h2M736 587.5h1M799 587.5h1M126 571.5h1M316 571.5h1M320 571.5h1M531 571.5h2M584 571.5h2M620 571.5h2M723 571.5h2M813 571.5h1M132 580.5h1M282 580.5h1M287 580.5h5M307 580.5h1M341 580.5h1M385 580.5h2M392 580.5h5M448 580.5h4M468 580.5h2M521 580.5h1M605 580.5h2M733 580.5h1M805 580.5h1M146 598.5h1M237 598.5h1M756 598.5h4M788 598.5h1M141 592.5h1M243 592.5h2M259 592.5h2M263 592.5h1M349 592.5h1M364 592.5h1M408 592.5h1M431 592.5h1M485 592.5h1M501 592.5h2M739 592.5h2M795 592.5h1M126 572.5h1M314 572.5h2M321 572.5h2M529 572.5h2M586 572.5h4M619 572.5h1M725 572.5h1M812 572.5h1M130 578.5h1M308 578.5h1M340 578.5h1M453 578.5h1M465 578.5h1M523 578.5h1M602 578.5h1M611 578.5h2M732 578.5h1M807 578.5h1M124 568.5h1M537 568.5h2M581 568.5h1M624 568.5h2M716 568.5h3M816 568.5h2M134 583.5h1M279 583.5h1M301 583.5h4M343 583.5h1M374 583.5h4M401 583.5h2M440 583.5h2M473 583.5h2M518 583.5h1M734 583.5h1M803 583.5h1M137 586.5h1M273 586.5h4M345 586.5h1M370 586.5h2M404 586.5h1M436 586.5h1M479 586.5h1M515 586.5h1M736 586.5h1M800 586.5h1M128 575.5h1M311 575.5h1M325 575.5h11M456 575.5h1M461 575.5h1M526 575.5h1M597 575.5h2M615 575.5h2M729 575.5h1M810 575.5h1M172 609.5h2M190 609.5h2M204 609.5h2M227 609.5h1M144 596.5h1M239 596.5h1M352 596.5h1M357 596.5h4M418 596.5h4M424 596.5h2M745 596.5h4M790 596.5h2M94 566.5h2M123 566.5h1M541 566.5h5M579 566.5h1M635 566.5h4M668 566.5h9M710 566.5h2M819 566.5h1M127 574.5h1M312 574.5h1M324 574.5h1M457 574.5h1M459 574.5h2M527 574.5h1M593 574.5h4M617 574.5h1M727 574.5h2M811 574.5h1M569 560.5h2M656 560.5h4M662 560.5h1M884 560.5h16M156 605.5h5M165 605.5h2M231 605.5h1M770 605.5h11M107 561.5h9M565 561.5h4M571 561.5h2M651 561.5h5M663 561.5h1M840 561.5h5M868 561.5h5M882 561.5h2M169 607.5h2M194 607.5h4M200 607.5h2M229 607.5h1M145 597.5h1M238 597.5h1M353 597.5h4M422 597.5h2M749 597.5h7M789 597.5h1M178 612.5h4M186 612.5h2M209 612.5h2M223 612.5h1M147 600.5h1M236 600.5h1M761 600.5h1M786 600.5h1M149 602.5h1M234 602.5h1M764 602.5h1M783 602.5h2M135 584.5h1M278 584.5h1M344 584.5h1M373 584.5h1M403 584.5h1M438 584.5h2M475 584.5h2M517 584.5h1M735 584.5h1M802 584.5h1M142 593.5h1M241 593.5h2M261 593.5h2M350 593.5h1M363 593.5h1M409 593.5h2M430 593.5h1M486 593.5h2M499 593.5h2M741 593.5h1M794 593.5h1M129 577.5h1M309 577.5h1M340 577.5h1M454 577.5h1M463 577.5h2M524 577.5h1M601 577.5h1M613 577.5h1M731 577.5h1M808 577.5h1M125 570.5h1M317 570.5h1M319 570.5h1M533 570.5h2M583 570.5h1M622 570.5h1M721 570.5h2M814 570.5h1M124 569.5h1M318 569.5h1M535 569.5h2M582 569.5h1M623 569.5h1M719 569.5h2M815 569.5h1M171 608.5h1M192 608.5h2M202 608.5h2M228 608.5h1M182 613.5h4M211 613.5h2M221 613.5h2M147 599.5h1M236 599.5h1M760 599.5h1M787 599.5h1M123 567.5h1M539 567.5h2M580 567.5h1M626 567.5h9M712 567.5h4M818 567.5h1M174 610.5h2M189 610.5h1M206 610.5h1M225 610.5h2M213 614.5h8M127 573.5h1M313 573.5h1M323 573.5h1M458 573.5h1M528 573.5h1M590 573.5h3M618 573.5h1M726 573.5h1M812 573.5h1M152 604.5h4M161 604.5h4M232 604.5h1M766 604.5h4M781 604.5h1M139 589.5h1M267 589.5h1M347 589.5h1M367 589.5h1M406 589.5h1M434 589.5h1M482 589.5h1M507 589.5h2M737 589.5h1M798 589.5h1M167 606.5h2M198 606.5h2M230 606.5h1M138 588.5h1M268 588.5h1M346 588.5h1M368 588.5h1M406 588.5h1M434 588.5h1M481 588.5h1M509 588.5h4M737 588.5h1M798 588.5h1M148 601.5h1M235 601.5h1M762 601.5h2M785 601.5h1M660 559.5h2M140 591.5h1M245 591.5h2M257 591.5h2M264 591.5h1M348 591.5h1M365 591.5h1M408 591.5h1M432 591.5h1M484 591.5h1M503 591.5h2M738 591.5h1M796 591.5h1M176 611.5h2M188 611.5h1M207 611.5h2M224 611.5h1" fill="none" stroke="#ffffff" stroke-width="1" shape-rendering="crispEdges"/>
<path d="M100 564.5h5M119 564.5h4M569 564.5h10M656 564.5h4M665 564.5h7M700 564.5h7M854 564.5h14M143 583.5h1M294 583.5h12M351 583.5h1M392 583.5h12M454 583.5h2M480 583.5h2M526 583.5h2M743 583.5h1M814 583.5h1M105 563.5h14M660 563.5h5M868 563.5h14M149 589.5h1M278 589.5h2M360 589.5h9M415 589.5h3M439 589.5h2M492 589.5h5M511 589.5h5M753 589.5h2M806 589.5h2M145 585.5h1M287 585.5h2M353 585.5h1M380 585.5h5M406 585.5h2M450 585.5h2M484 585.5h2M522 585.5h2M745 585.5h2M811 585.5h2M131 571.5h1M548 571.5h3M597 571.5h3M628 571.5h4M731 571.5h1M831 571.5h2M167 600.5h2M244 600.5h2M775 600.5h4M782 600.5h4M147 587.5h1M282 587.5h3M356 587.5h2M373 587.5h3M411 587.5h2M443 587.5h3M488 587.5h2M518 587.5h2M749 587.5h2M809 587.5h1M151 591.5h2M271 591.5h4M420 591.5h2M432 591.5h4M757 591.5h2M804 591.5h1M96 565.5h4M123 565.5h2M565 565.5h4M579 565.5h2M651 565.5h5M672 565.5h28M707 565.5h7M849 565.5h5M146 586.5h1M285 586.5h2M354 586.5h2M376 586.5h4M408 586.5h3M446 586.5h4M486 586.5h2M520 586.5h2M747 586.5h2M810 586.5h1M153 592.5h1M268 592.5h3M422 592.5h10M759 592.5h1M802 592.5h2M184 607.5h12M201 607.5h4M233 607.5h2M126 567.5h1M558 567.5h4M583 567.5h3M642 567.5h4M721 567.5h4M842 567.5h3M148 588.5h1M280 588.5h2M358 588.5h2M369 588.5h4M413 588.5h2M441 588.5h2M490 588.5h2M516 588.5h2M751 588.5h2M808 588.5h1M144 584.5h1M289 584.5h5M352 584.5h1M385 584.5h7M404 584.5h2M452 584.5h2M482 584.5h2M524 584.5h2M744 584.5h1M813 584.5h1M169 601.5h2M242 601.5h2M779 601.5h3M135 574.5h1M542 574.5h2M604 574.5h5M616 574.5h5M734 574.5h1M825 574.5h2M161 597.5h2M250 597.5h4M766 597.5h2M793 597.5h2M140 580.5h1M310 580.5h3M347 580.5h1M462 580.5h7M531 580.5h2M740 580.5h1M817 580.5h1M154 593.5h1M266 593.5h2M760 593.5h2M801 593.5h1M150 590.5h1M275 590.5h3M418 590.5h2M436 590.5h3M497 590.5h14M755 590.5h2M805 590.5h1M896 561.5h4M159 596.5h2M254 596.5h5M764 596.5h2M795 596.5h2M882 562.5h14M138 577.5h1M317 577.5h5M341 577.5h2M536 577.5h2M737 577.5h1M821 577.5h1M208 609.5h4M229 609.5h2M142 582.5h1M306 582.5h2M349 582.5h2M456 582.5h2M476 582.5h4M528 582.5h1M742 582.5h1M815 582.5h1M94 566.5h2M125 566.5h1M562 566.5h3M581 566.5h2M646 566.5h5M714 566.5h7M845 566.5h4M155 594.5h2M264 594.5h2M762 594.5h1M799 594.5h2M180 606.5h4M196 606.5h5M235 606.5h2M137 576.5h1M322 576.5h19M538 576.5h2M736 576.5h1M822 576.5h1M127 568.5h2M555 568.5h3M586 568.5h4M639 568.5h3M725 568.5h2M838 568.5h4M141 581.5h1M308 581.5h2M348 581.5h1M458 581.5h4M469 581.5h7M529 581.5h2M741 581.5h1M816 581.5h1M134 573.5h1M544 573.5h2M602 573.5h2M621 573.5h4M733 573.5h1M827 573.5h2M136 575.5h1M540 575.5h2M609 575.5h7M735 575.5h1M823 575.5h2M130 570.5h1M551 570.5h2M593 570.5h4M632 570.5h3M729 570.5h2M833 570.5h2M140 579.5h1M313 579.5h2M345 579.5h2M533 579.5h2M739 579.5h1M818 579.5h2M212 610.5h5M224 610.5h5M129 569.5h1M553 569.5h2M590 569.5h3M635 569.5h4M727 569.5h2M835 569.5h3M132 572.5h2M546 572.5h2M600 572.5h2M625 572.5h3M732 572.5h1M829 572.5h2M173 603.5h2M239 603.5h2M163 598.5h2M248 598.5h2M768 598.5h4M789 598.5h4M157 595.5h2M259 595.5h5M763 595.5h1M797 595.5h2M217 611.5h7M177 605.5h3M237 605.5h1M171 602.5h2M241 602.5h1M165 599.5h2M246 599.5h2M772 599.5h3M786 599.5h3M139 578.5h1M315 578.5h2M343 578.5h2M535 578.5h1M738 578.5h1M820 578.5h1M205 608.5h3M231 608.5h2M175 604.5h2M238 604.5h1" fill="none" stroke="#e8e020" stroke-width="1" shape-rendering="crispEdges"/>
<path d="M344.5 596v4M234.5 590v3M340.5 579v4M404.5 589v4M343.5 591v5M362.5 603v3M405.5 593v3M407.5 600v4M127.5 583v4M735.5 604v4M667.5 568v3M322.5 563v3M731.5 590v3M124.5 571v4M734.5 600v4M366.5 591v3M483.5 601v3M408.5 604v4M663.5 557v3M123.5 567v4M480.5 593v3M430.5 592v3M365.5 594v3M339.5 576v3M346.5 604v3M126.5 579v4M320.5 558v3M403.5 585v4M361.5 606v3M308.5 572v3M737.5 611v4M342.5 587v4M364.5 597v3M345.5 600v4M406.5 596v4M736.5 608v3M129.5 591v3M666.5 565v3M125.5 575v4M577.5 565v3M733.5 597v3M662.5 554v3M341.5 583v4M460.5 561v3M485.5 607v3M128.5 587v4M323.5 566v3M732.5 593v4M481.5 596v3M432.5 587v3M581.5 574v3M363.5 600v3M463.5 568v3M801.5 572v3M484.5 604v3M435.5 580v3M665.5 562v3M239 581.5h1M257 581.5h1M267 581.5h1M299 581.5h4M304 581.5h1M372 581.5h1M400 581.5h1M470 581.5h1M515 581.5h1M584 581.5h1M586 581.5h4M592 581.5h2M613 581.5h1M726 581.5h1M797 581.5h1M97 564.5h1M120 564.5h2M312 564.5h1M455 564.5h1M461 564.5h1M525 564.5h1M576 564.5h1M622 564.5h1M682 564.5h2M697 564.5h1M707 564.5h1M805 564.5h1M241 576.5h2M252 576.5h1M278 576.5h1M294 576.5h1M307 576.5h1M338 576.5h1M380 576.5h2M395 576.5h1M437 576.5h1M466 576.5h1M518 576.5h1M616 576.5h1M722 576.5h2M800 576.5h1M135 602.5h1M229 602.5h1M426 602.5h1M498 602.5h1M786 602.5h1M136 605.5h1M199 605.5h1M227 605.5h1M424 605.5h1M496 605.5h1M785 605.5h1M94 566.5h1M122 566.5h1M283 566.5h2M311 566.5h1M454 566.5h1M462 566.5h1M523 566.5h1M621 566.5h1M679 566.5h1M688 566.5h5M708 566.5h1M804 566.5h1M539 552.5h2M544 552.5h2M553 552.5h2M560 552.5h11M660 552.5h2M812 552.5h1M844 552.5h1M280 572.5h1M291 572.5h1M325 572.5h4M386 572.5h1M390 572.5h1M441 572.5h1M450 572.5h2M464 572.5h1M520 572.5h1M580 572.5h1M618 572.5h1M668 572.5h2M716 572.5h2M281 569.5h1M288 569.5h1M310 569.5h1M324 569.5h1M444 569.5h2M452 569.5h1M522 569.5h1M578 569.5h1M619 569.5h1M674 569.5h2M709 569.5h1M803 569.5h1M141 615.5h1M189 615.5h1M208 615.5h1M222 615.5h1M351 615.5h1M357 615.5h1M738 615.5h1M752 615.5h2M762 615.5h1M777 615.5h2M136 604.5h1M228 604.5h1M425 604.5h1M497 604.5h1M785 604.5h1M243 575.5h2M251 575.5h1M278 575.5h1M293 575.5h1M307 575.5h1M336 575.5h2M382 575.5h1M394 575.5h1M438 575.5h1M466 575.5h1M518 575.5h1M616 575.5h1M721 575.5h1M800 575.5h1M137 607.5h1M196 607.5h1M201 607.5h1M226 607.5h1M347 607.5h1M413 607.5h2M418 607.5h4M423 607.5h1M494 607.5h1M784 607.5h1M245 574.5h2M249 574.5h2M279 574.5h1M292 574.5h1M334 574.5h2M383 574.5h1M393 574.5h1M439 574.5h1M465 574.5h1M519 574.5h1M617 574.5h1M720 574.5h1M431 591.5h1M479 591.5h1M505 591.5h1M603 591.5h1M606 591.5h1M792 591.5h1M95 565.5h2M122 565.5h1M283 565.5h1M312 565.5h1M454 565.5h1M461 565.5h1M524 565.5h1M622 565.5h1M680 565.5h2M684 565.5h4M693 565.5h4M707 565.5h1M805 565.5h1M240 578.5h1M255 578.5h1M269 578.5h4M277 578.5h1M295 578.5h1M306 578.5h1M374 578.5h2M397 578.5h1M436 578.5h1M468 578.5h1M517 578.5h1M582 578.5h1M615 578.5h1M725 578.5h1M799 578.5h1M101 561.5h1M116 561.5h2M314 561.5h1M321 561.5h1M456 561.5h1M526 561.5h1M575 561.5h1M624 561.5h1M664 561.5h1M700 561.5h1M705 561.5h1M807 561.5h1M875 561.5h1M880 561.5h1M98 563.5h1M119 563.5h1M313 563.5h1M455 563.5h1M525 563.5h1M576 563.5h1M623 563.5h1M698 563.5h1M706 563.5h1M806 563.5h1M878 563.5h1M149 631.5h1M151 631.5h2M102 560.5h2M114 560.5h2M315 560.5h1M457 560.5h1M459 560.5h1M527 560.5h1M574 560.5h1M625 560.5h1M664 560.5h1M701 560.5h1M704 560.5h1M807 560.5h1M863 560.5h3M874 560.5h1M881 560.5h2M898 560.5h2M145 623.5h1M161 623.5h1M172 623.5h2M184 623.5h2M745 623.5h1M317 556.5h1M319 556.5h1M531 556.5h2M572 556.5h1M645 556.5h2M809 556.5h1M847 556.5h1M280 571.5h1M290 571.5h1M309 571.5h1M325 571.5h1M387 571.5h1M389 571.5h1M442 571.5h1M448 571.5h2M451 571.5h1M464 571.5h1M520 571.5h1M579 571.5h1M618 571.5h1M668 571.5h1M670 571.5h2M712 571.5h4M802 571.5h1M282 568.5h1M286 568.5h2M310 568.5h1M453 568.5h1M522 568.5h1M578 568.5h1M620 568.5h1M676 568.5h2M709 568.5h1M803 568.5h1M106 558.5h2M110 558.5h2M316 558.5h1M458 558.5h1M528 558.5h1M573 558.5h1M626 558.5h4M641 558.5h2M703 558.5h1M808 558.5h1M849 558.5h1M854 558.5h5M870 558.5h2M884 558.5h1M889 558.5h5M236 587.5h1M261 587.5h1M263 587.5h1M368 587.5h1M475 587.5h1M508 587.5h2M600 587.5h1M609 587.5h1M729 587.5h1M794 587.5h1M479 592.5h1M505 592.5h1M604 592.5h1M606 592.5h1M792 592.5h1M238 583.5h1M258 583.5h1M266 583.5h1M371 583.5h1M402 583.5h1M434 583.5h1M471 583.5h1M514 583.5h1M596 583.5h2M612 583.5h1M727 583.5h1M796 583.5h1M137 606.5h1M197 606.5h2M200 606.5h1M227 606.5h1M415 606.5h3M424 606.5h1M495 606.5h1M784 606.5h1M282 567.5h1M285 567.5h1M311 567.5h1M453 567.5h1M462 567.5h1M523 567.5h1M620 567.5h1M678 567.5h1M708 567.5h1M804 567.5h1M238 582.5h1M258 582.5h1M266 582.5h1M303 582.5h2M371 582.5h1M401 582.5h1M471 582.5h1M515 582.5h1M584 582.5h2M594 582.5h2M613 582.5h1M727 582.5h1M797 582.5h1M141 614.5h1M190 614.5h1M207 614.5h1M222 614.5h1M350 614.5h1M357 614.5h1M754 614.5h2M761 614.5h1M779 614.5h2M148 629.5h1M155 629.5h2M281 570.5h1M289 570.5h1M309 570.5h1M324 570.5h1M388 570.5h1M443 570.5h1M446 570.5h2M452 570.5h1M521 570.5h1M579 570.5h1M619 570.5h1M672 570.5h2M710 570.5h2M802 570.5h1M143 618.5h1M164 618.5h1M188 618.5h1M210 618.5h1M219 618.5h2M352 618.5h1M354 618.5h1M740 618.5h1M749 618.5h1M764 618.5h1M770 618.5h2M130 595.5h1M232 595.5h1M429 595.5h1M503 595.5h1M790 595.5h1M138 608.5h1M195 608.5h1M202 608.5h1M226 608.5h1M347 608.5h1M409 608.5h1M411 608.5h2M422 608.5h2M492 608.5h2M783 608.5h1M235 589.5h1M262 589.5h1M367 589.5h1M477 589.5h1M506 589.5h1M602 589.5h1M608 589.5h1M730 589.5h1M793 589.5h1M104 559.5h2M112 559.5h2M315 559.5h1M457 559.5h1M459 559.5h1M527 559.5h1M574 559.5h1M625 559.5h1M630 559.5h11M702 559.5h1M704 559.5h1M808 559.5h1M850 559.5h4M859 559.5h4M866 559.5h4M872 559.5h2M883 559.5h1M894 559.5h4M237 585.5h1M259 585.5h1M265 585.5h1M370 585.5h1M433 585.5h1M473 585.5h1M511 585.5h1M599 585.5h1M611 585.5h1M728 585.5h1M795 585.5h1M134 601.5h1M229 601.5h1M426 601.5h1M499 601.5h1M787 601.5h1M247 573.5h2M279 573.5h1M292 573.5h1M329 573.5h5M384 573.5h2M391 573.5h2M440 573.5h1M465 573.5h1M519 573.5h1M580 573.5h1M617 573.5h1M718 573.5h2M239 580.5h1M256 580.5h1M268 580.5h1M297 580.5h2M305 580.5h1M373 580.5h1M399 580.5h1M469 580.5h1M516 580.5h1M583 580.5h1M590 580.5h2M614 580.5h1M726 580.5h1M798 580.5h1M146 624.5h1M160 624.5h1M174 624.5h2M182 624.5h2M318 554.5h1M535 554.5h2M548 554.5h3M571 554.5h1M651 554.5h5M811 554.5h1M846 554.5h1M108 557.5h2M316 557.5h1M319 557.5h1M458 557.5h1M529 557.5h2M573 557.5h1M643 557.5h2M809 557.5h1M848 557.5h1M885 557.5h4M131 596.5h1M232 596.5h1M429 596.5h1M502 596.5h1M789 596.5h1M147 626.5h1M158 626.5h1M178 626.5h2M235 588.5h1M261 588.5h1M263 588.5h1M368 588.5h1M476 588.5h1M507 588.5h1M601 588.5h1M609 588.5h1M730 588.5h1M794 588.5h1M367 590.5h1M431 590.5h1M478 590.5h1M506 590.5h1M603 590.5h1M607 590.5h1M793 590.5h1M140 613.5h1M190 613.5h1M206 613.5h1M223 613.5h1M350 613.5h1M358 613.5h1M756 613.5h2M760 613.5h1M781 613.5h1M233 593.5h1M504 593.5h1M605 593.5h1M791 593.5h1M241 577.5h1M253 577.5h2M277 577.5h1M295 577.5h1M306 577.5h1M376 577.5h4M396 577.5h1M437 577.5h1M467 577.5h1M517 577.5h1M582 577.5h1M615 577.5h1M724 577.5h1M799 577.5h1M537 553.5h2M546 553.5h2M551 553.5h2M571 553.5h1M656 553.5h4M661 553.5h1M811 553.5h1M845 553.5h1M99 562.5h2M118 562.5h1M313 562.5h1M321 562.5h1M456 562.5h1M526 562.5h1M575 562.5h1M623 562.5h1M699 562.5h1M705 562.5h1M806 562.5h1M876 562.5h2M879 562.5h1M813 550.5h1M836 550.5h4M317 555.5h2M533 555.5h2M572 555.5h1M647 555.5h4M810 555.5h1M847 555.5h1M138 609.5h1M193 609.5h2M203 609.5h1M225 609.5h1M348 609.5h1M360 609.5h1M409 609.5h2M490 609.5h2M783 609.5h1M130 594.5h1M233 594.5h1M504 594.5h1M791 594.5h1M144 620.5h1M163 620.5h1M167 620.5h2M187 620.5h1M212 620.5h1M215 620.5h2M353 620.5h1M742 620.5h1M748 620.5h1M766 620.5h2M237 584.5h1M259 584.5h1M265 584.5h1M370 584.5h1M402 584.5h1M434 584.5h1M472 584.5h1M512 584.5h2M598 584.5h1M611 584.5h1M728 584.5h1M796 584.5h1M145 622.5h1M161 622.5h1M171 622.5h1M186 622.5h1M744 622.5h1M746 622.5h1M814 548.5h1M834 548.5h1M814 549.5h1M835 549.5h1M135 603.5h1M228 603.5h1M425 603.5h1M497 603.5h1M786 603.5h1M240 579.5h1M256 579.5h1M268 579.5h1M273 579.5h4M296 579.5h1M305 579.5h1M373 579.5h1M398 579.5h1M436 579.5h1M469 579.5h1M516 579.5h1M583 579.5h1M614 579.5h1M725 579.5h1M798 579.5h1M146 625.5h1M159 625.5h1M176 625.5h2M180 625.5h2M822 543.5h8M139 610.5h1M192 610.5h1M203 610.5h1M225 610.5h1M348 610.5h1M360 610.5h1M486 610.5h1M488 610.5h2M782 610.5h1M236 586.5h1M260 586.5h1M264 586.5h1M369 586.5h1M433 586.5h1M474 586.5h1M510 586.5h1M600 586.5h1M610 586.5h1M729 586.5h1M795 586.5h1M133 599.5h1M230 599.5h1M427 599.5h1M482 599.5h1M501 599.5h1M788 599.5h1M815 547.5h1M833 547.5h1M818 545.5h2M831 545.5h1M147 627.5h1M158 627.5h1M541 551.5h3M555 551.5h5M812 551.5h1M840 551.5h4M148 628.5h1M157 628.5h1M144 621.5h1M162 621.5h1M169 621.5h2M186 621.5h1M213 621.5h2M743 621.5h1M747 621.5h1M142 617.5h1M188 617.5h1M210 617.5h1M221 617.5h1M352 617.5h1M355 617.5h1M739 617.5h1M750 617.5h1M763 617.5h1M772 617.5h3M142 616.5h1M189 616.5h1M209 616.5h1M221 616.5h1M351 616.5h1M356 616.5h1M738 616.5h1M751 616.5h1M763 616.5h1M775 616.5h2M132 597.5h1M231 597.5h1M428 597.5h1M502 597.5h1M789 597.5h1M149 630.5h1M153 630.5h2M143 619.5h1M163 619.5h1M165 619.5h2M187 619.5h1M211 619.5h1M217 619.5h2M353 619.5h2M741 619.5h1M749 619.5h1M765 619.5h1M768 619.5h2M820 544.5h2M830 544.5h1M132 598.5h1M231 598.5h1M428 598.5h1M501 598.5h1M788 598.5h1M139 611.5h1M191 611.5h1M204 611.5h1M224 611.5h1M349 611.5h1M359 611.5h1M486 611.5h2M782 611.5h1M140 612.5h1M191 612.5h1M205 612.5h1M224 612.5h1M349 612.5h1M359 612.5h1M758 612.5h2M781 612.5h1M150 632.5h1M816 546.5h2M832 546.5h1M133 600.5h1M230 600.5h1M427 600.5h1M482 600.5h1M500 600.5h1M787 600.5h1" fill="none" stroke="#e020e0" stroke-width="1" shape-rendering="crispEdges"/>
<text x="87" y="25.0" fill="#f0304c" font-size="12" font-family="Liberation Sans, sans-serif" text-anchor="end" font-weight="normal" >96.54</text>
<text x="929.5" y="25.0" fill="#f0304c" font-size="12" font-family="Liberation Sans, sans-serif" text-anchor="start" font-weight="normal" >96.54</text>
<text x="87" y="86.0" fill="#f0304c" font-size="12" font-family="Liberation Sans, sans-serif" text-anchor="end" font-weight="normal" >92.03</text>
<text x="929.5" y="86.0" fill="#f0304c" font-size="12" font-family="Liberation Sans, sans-serif" text-anchor="start" font-weight="normal" >92.03</text>
<text x="87" y="147.9" fill="#f0304c" font-size="12" font-family="Liberation Sans, sans-serif" text-anchor="end" font-weight="normal" >87.53</text>
<text x="929.5" y="147.9" fill="#f0304c" font-size="12" font-family="Liberation Sans, sans-serif" text-anchor="start" font-weight="normal" >87.53</text>
<text x="87" y="209.9" fill="#f0304c" font-size="12" font-family="Liberation Sans, sans-serif" text-anchor="end" font-weight="normal" >83.02</text>
<text x="929.5" y="209.9" fill="#f0304c" font-size="12" font-family="Liberation Sans, sans-serif" text-anchor="start" font-weight="normal" >83.02</text>
<text x="87" y="271.1" fill="#f0304c" font-size="12" font-family="Liberation Sans, sans-serif" text-anchor="end" font-weight="normal" >78.52</text>
<text x="929.5" y="271.1" fill="#f0304c" font-size="12" font-family="Liberation Sans, sans-serif" text-anchor="start" font-weight="normal" >78.52</text>
<text x="87" y="332.7" fill="#f0304c" font-size="12" font-family="Liberation Sans, sans-serif" text-anchor="end" font-weight="normal" >74.02</text>
<text x="929.5" y="332.7" fill="#f0304c" font-size="12" font-family="Liberation Sans, sans-serif" text-anchor="start" font-weight="normal" >74.02</text>
<text x="87" y="416.0" fill="#f0304c" font-size="12" font-family="Liberation Sans, sans-serif" text-anchor="end" font-weight="normal" >2.43</text>
<text x="929.5" y="416.0" fill="#f0304c" font-size="12" font-family="Liberation Sans, sans-serif" text-anchor="start" font-weight="normal" >2.43</text>
<text x="87" y="443.3" fill="#f0304c" font-size="12" font-family="Liberation Sans, sans-serif" text-anchor="end" font-weight="normal" >1.21</text>
<text x="929.5" y="443.3" fill="#f0304c" font-size="12" font-family="Liberation Sans, sans-serif" text-anchor="start" font-weight="normal" >1.21</text>
<text x="87" y="470.3" fill="#f0304c" font-size="12" font-family="Liberation Sans, sans-serif" text-anchor="end" font-weight="normal" >-0.02</text>
<text x="929.5" y="470.3" fill="#f0304c" font-size="12" font-family="Liberation Sans, sans-serif" text-anchor="start" font-weight="normal" >-0.02</text>
<text x="87" y="496.90000000000003" fill="#f0304c" font-size="12" font-family="Liberation Sans, sans-serif" text-anchor="end" font-weight="normal" >-1.24</text>
<text x="929.5" y="496.90000000000003" fill="#f0304c" font-size="12" font-family="Liberation Sans, sans-serif" text-anchor="start" font-weight="normal" >-1.24</text>
<text x="87" y="546.3" fill="#f0304c" font-size="12" font-family="Liberation Sans, sans-serif" text-anchor="end" font-weight="normal" >118.99</text>
<text x="929.5" y="546.3" fill="#f0304c" font-size="12" font-family="Liberation Sans, sans-serif" text-anchor="start" font-weight="normal" >118.99</text>
<text x="87" y="576.3" fill="#f0304c" font-size="12" font-family="Liberation Sans, sans-serif" text-anchor="end" font-weight="normal" >72.92</text>
<text x="929.5" y="576.3" fill="#f0304c" font-size="12" font-family="Liberation Sans, sans-serif" text-anchor="start" font-weight="normal" >72.92</text>
<text x="87" y="606.3" fill="#f0304c" font-size="12" font-family="Liberation Sans, sans-serif" text-anchor="end" font-weight="normal" >26.84</text>
<text x="929.5" y="606.3" fill="#f0304c" font-size="12" font-family="Liberation Sans, sans-serif" text-anchor="start" font-weight="normal" >26.84</text>
<text x="113.5" y="141.5" fill="#f0304c" font-size="12" font-family="Liberation Sans, sans-serif" text-anchor="start" font-weight="bold" >87.49</text>
<text x="897.5" y="56" fill="#f0304c" font-size="12" font-family="Liberation Sans, sans-serif" text-anchor="start" font-weight="bold" >93.83</text>
<text x="225.5" y="379.5" fill="#38c878" font-size="12" font-family="Liberation Sans, sans-serif" text-anchor="start" font-weight="bold" >71.28</text>
<rect x="926.5" y="100.5" width="68" height="17" fill="#000" stroke="#2c2c2c" shape-rendering="crispEdges"/>
<line x1="994.5" x2="994.5" y1="100" y2="155" stroke="#2a2a2a" shape-rendering="crispEdges"/>
<text x="929" y="113" fill="#f0a020" font-size="12" font-family="Liberation Sans, sans-serif" text-anchor="start" font-weight="normal" >90.77</text>
<text x="92" y="14" fill="#fff" font-size="12" font-family="'Liberation Sans', 'Noto Sans CJK SC', sans-serif" text-anchor="start">布伦特原油连续</text>
<text x="177" y="14" fill="#f0a030" font-size="12" font-family="'Liberation Sans', 'Noto Sans CJK SC', sans-serif" text-anchor="start">【日线】</text>
<g shape-rendering="crispEdges"><rect x="232" y="3" width="12" height="12" fill="#8c8c84"/><rect x="231.5" y="1.5" width="11" height="12" fill="#ffffff" stroke="#00008c" stroke-width="1"/></g>
<path d="M232.3 8.6 L235.5 4.6 L238.5 7.6 L240.5 5.5 L242 5.5" stroke="#ff0000" stroke-width="1" fill="none"/>
<path d="M232.3 11.6 L235.5 7.6 L238.5 10.6 L240.5 8.5 L242 8.5" stroke="#0000e0" stroke-width="1" fill="none"/>
<text x="246.8" y="14" fill="#ffffff" font-size="12" font-family="Liberation Sans, sans-serif" text-anchor="start" font-weight="normal" textLength="133" lengthAdjust="spacingAndGlyphs">MA(5,10,21,55,100,200)</text>
<text x="384.9" y="14" fill="#ffffff" font-size="12" font-family="Liberation Sans, sans-serif" text-anchor="start" font-weight="normal" textLength="59.5" lengthAdjust="spacingAndGlyphs">MA5:92.70</text>
<text x="453.8" y="14" fill="#d8d020" font-size="12" font-family="Liberation Sans, sans-serif" text-anchor="start" font-weight="normal" textLength="67.3" lengthAdjust="spacingAndGlyphs">MA10:91.50</text>
<text x="529.9" y="14" fill="#e020e0" font-size="12" font-family="Liberation Sans, sans-serif" text-anchor="start" font-weight="normal" textLength="67" lengthAdjust="spacingAndGlyphs">MA21:88.18</text>
<text x="605.7" y="14" fill="#22cc22" font-size="12" font-family="Liberation Sans, sans-serif" text-anchor="start" font-weight="normal" textLength="66.5" lengthAdjust="spacingAndGlyphs">MA55:84.61</text>
<text x="681.5" y="14" fill="#909090" font-size="12" font-family="Liberation Sans, sans-serif" text-anchor="start" font-weight="normal" textLength="40.2" lengthAdjust="spacingAndGlyphs">MA100</text>
<rect x="785.5" y="1.5" width="74" height="14" fill="#000" stroke="#808080" shape-rendering="crispEdges"/>
<text x="793" y="13" fill="#8a9098" font-size="12" font-family="'Liberation Sans', 'Noto Sans CJK SC', sans-serif" text-anchor="start">全部主题</text>
<path d="M842 5 L851 5 L846.5 13 Z" fill="#8a9098"/>
<rect x="863.5" y="1.5" width="13" height="13" fill="#060606" stroke="#a0a0a0" shape-rendering="crispEdges"/>
<rect x="879.5" y="1.5" width="13" height="13" fill="#060606" stroke="#a0a0a0" shape-rendering="crispEdges"/>
<rect x="895.5" y="1.5" width="13" height="13" fill="#060606" stroke="#a0a0a0" shape-rendering="crispEdges"/>
<rect x="911.5" y="1.5" width="13" height="13" fill="#060606" stroke="#a0a0a0" shape-rendering="crispEdges"/>
<g fill="#a8a8a8" shape-rendering="crispEdges">
<rect x="869" y="7" width="2" height="2"/><rect x="869" y="3" width="2" height="3"/><rect x="869" y="10" width="2" height="3"/><rect x="865" y="7" width="3" height="2"/><rect x="872" y="7" width="3" height="2"/>
<rect x="882" y="4" width="1" height="9"/><rect x="881" y="12" width="10" height="1"/><rect x="885" y="4" width="1" height="6"/>
<rect x="898" y="4" width="1" height="9"/><rect x="897" y="12" width="10" height="1"/>
</g>
<g fill="#a8a8a8">
<path d="M882.5 2.8 L881 5 L884 5 Z M890.5 12.5 L889 11 L889 14 Z M880.6 12.5 L882 11.2 L882 13.8 Z"/>
<path d="M886.4 7 L889.2 4 L889.2 10 Z"/>
<path d="M898.5 2.8 L897 5 L900 5 Z M907 12.5 L905.3 11 L905.3 14 Z"/>
<path d="M901.3 4.2 L906 7.5 L901.3 10.6 Z"/>
<rect x="913.5" y="3.5" width="3" height="9" fill="none" stroke="#a8a8a8" shape-rendering="crispEdges"/>
<rect x="916" y="7" width="4" height="1.2"/><path d="M922.5 7.6 L919.5 4.8 L919.5 10.4 Z"/>
</g>
<text x="92.5" y="405" fill="#ffffff" font-size="12" font-family="Liberation Sans, sans-serif" text-anchor="start" font-weight="normal" textLength="86" lengthAdjust="spacingAndGlyphs">MACD(26,12,9)</text>
<text x="182" y="405" fill="#ffffff" font-size="12" font-family="Liberation Sans, sans-serif" text-anchor="start" font-weight="normal" textLength="52" lengthAdjust="spacingAndGlyphs">DIFF:2.43</text>
<text x="243.2" y="405" fill="#d0d008" font-size="12" font-family="Liberation Sans, sans-serif" text-anchor="start" font-weight="normal" textLength="50" lengthAdjust="spacingAndGlyphs">DEA:2.04</text>
<text x="301.8" y="405" fill="#e020e0" font-size="12" font-family="Liberation Sans, sans-serif" text-anchor="start" font-weight="normal" textLength="63" lengthAdjust="spacingAndGlyphs">MACD:0.78</text>
<text x="92.5" y="535" fill="#ffffff" font-size="12" font-family="Liberation Sans, sans-serif" text-anchor="start" font-weight="normal" textLength="56" lengthAdjust="spacingAndGlyphs">KDJ(9,3,3)</text>
<text x="153.5" y="535" fill="#ffffff" font-size="12" font-family="Liberation Sans, sans-serif" text-anchor="start" font-weight="normal" textLength="41" lengthAdjust="spacingAndGlyphs">K:91.05</text>
<text x="203.7" y="535" fill="#d0d008" font-size="12" font-family="Liberation Sans, sans-serif" text-anchor="start" font-weight="normal" textLength="43" lengthAdjust="spacingAndGlyphs">D:90.32</text>
<text x="254.7" y="535" fill="#e020e0" font-size="12" font-family="Liberation Sans, sans-serif" text-anchor="start" font-weight="normal" textLength="38" lengthAdjust="spacingAndGlyphs">J:92.50</text>
<g stroke="#ff0000" stroke-width="1.3" fill="none"><path d="M28.6 521v2.1 M28.6 533v2.1 M22 527.6h2.1 M33.9 527.6h2.2 M23 522.5l1.6 1.3 M34.6 522.5l-1.5 1.3 M23.1 533.7l1.5-1.3 M34.6 533.7l-1.5-1.3"/></g>
<circle cx="29" cy="528" r="4.2" fill="#000"/><circle cx="29" cy="528" r="3.15" fill="#fff"/>
<path d="M28 526h2v1h1v2h-1v1h-2v-1h-1v-2h1z" fill="#ff0000" shape-rendering="crispEdges"/>
<text x="201.5" y="646" fill="#a2acba" font-size="12" font-family="Liberation Sans, sans-serif" text-anchor="start" font-weight="bold" textLength="44" lengthAdjust="spacingAndGlyphs">2023/05</text>
<text x="362.7" y="646" fill="#a2acba" font-size="12" font-family="Liberation Sans, sans-serif" text-anchor="start" font-weight="bold" textLength="44" lengthAdjust="spacingAndGlyphs">2023/06</text>
<text x="516.5" y="646" fill="#a2acba" font-size="12" font-family="Liberation Sans, sans-serif" text-anchor="start" font-weight="bold" textLength="44" lengthAdjust="spacingAndGlyphs">2023/07</text>
<text x="663.5" y="646" fill="#a2acba" font-size="12" font-family="Liberation Sans, sans-serif" text-anchor="start" font-weight="bold" textLength="44" lengthAdjust="spacingAndGlyphs">2023/08</text>
<text x="824.7" y="646" fill="#a2acba" font-size="12" font-family="Liberation Sans, sans-serif" text-anchor="start" font-weight="bold" textLength="44" lengthAdjust="spacingAndGlyphs">2023/09</text>
<rect x="539.5" y="633.5" width="110" height="16" fill="#080808" stroke="#242424" shape-rendering="crispEdges"/>
<text x="542" y="646" fill="#f08828" font-size="12" font-family="Liberation Sans, sans-serif" text-anchor="start" font-weight="normal" textLength="66" lengthAdjust="spacingAndGlyphs">2023/07/07</text>
<text x="611.5" y="646" fill="#f08828" font-size="12" font-family="'Liberation Sans', 'Noto Sans CJK SC', sans-serif" text-anchor="start">星期五</text>
<text x="35.5" y="649" fill="#f0c040" font-size="12" font-weight="bold" font-family="'Liberation Sans', 'Noto Sans CJK SC', sans-serif" text-anchor="start">日线</text>
<path d="M64.6 647.6 L73.8 647.6 L69.2 639.8 Z" fill="#f0c040"/>
<g shape-rendering="crispEdges">
<rect x="2" y="2" width="18" height="49" fill="#222226"/>
<rect x="2" y="51" width="18" height="46" fill="#424552"/>
<rect x="2" y="98" width="18" height="50" fill="#222226"/>
<rect x="2" y="150" width="18" height="64" fill="#222226"/>
</g>
<text x="9.5" y="17" fill="#b8b8b8" font-size="12" font-family="'Liberation Serif', 'Noto Serif CJK SC', serif" text-anchor="middle">分</text>
<text x="9.5" y="31" fill="#b8b8b8" font-size="12" font-family="'Liberation Serif', 'Noto Serif CJK SC', serif" text-anchor="middle">时</text>
<text x="9.5" y="45" fill="#b8b8b8" font-size="12" font-family="'Liberation Serif', 'Noto Serif CJK SC', serif" text-anchor="middle">图</text>
<text x="10" y="65.7" fill="#ffffff" font-size="11.5" font-family="Liberation Serif, serif" text-anchor="middle" textLength="6.5" lengthAdjust="spacingAndGlyphs" stroke="#ffffff" stroke-width="0.3">K</text>
<text x="9.5" y="80" fill="#ffffff" font-size="12" font-family="'Liberation Serif', 'Noto Serif CJK SC', serif" text-anchor="middle">线</text>
<text x="9.5" y="94" fill="#ffffff" font-size="12" font-family="'Liberation Serif', 'Noto Serif CJK SC', serif" text-anchor="middle">图</text>
<text x="9.5" y="115" fill="#b8b8b8" font-size="12" font-family="'Liberation Serif', 'Noto Serif CJK SC', serif" text-anchor="middle">闪</text>
<text x="9.5" y="129" fill="#b8b8b8" font-size="12" font-family="'Liberation Serif', 'Noto Serif CJK SC', serif" text-anchor="middle">电</text>
<text x="9.5" y="143" fill="#b8b8b8" font-size="12" font-family="'Liberation Serif', 'Noto Serif CJK SC', serif" text-anchor="middle">图</text>
<text x="9.5" y="167" fill="#b8b8b8" font-size="12" font-family="'Liberation Serif', 'Noto Serif CJK SC', serif" text-anchor="middle">合</text>
<text x="9.5" y="181" fill="#b8b8b8" font-size="12" font-family="'Liberation Serif', 'Noto Serif CJK SC', serif" text-anchor="middle">约</text>
<text x="9.5" y="195" fill="#b8b8b8" font-size="12" font-family="'Liberation Serif', 'Noto Serif CJK SC', serif" text-anchor="middle">资</text>
<text x="9.5" y="209" fill="#b8b8b8" font-size="12" font-family="'Liberation Serif', 'Noto Serif CJK SC', serif" text-anchor="middle">料</text>
<g shape-rendering="crispEdges">
<rect x="0" y="652" width="996" height="17" fill="#080808"/>
<line x1="20" x2="996" y1="653.5" y2="653.5" stroke="#2a2a2a"/>
<rect x="20" y="654" width="39" height="15" fill="#0b0b0b"/>
<line x1="59.5" x2="59.5" y1="654" y2="669" stroke="#2a2a2a"/>
<rect x="60" y="654" width="39" height="15" fill="#464958"/>
<line x1="99.5" x2="99.5" y1="654" y2="669" stroke="#2a2a2a"/>
<rect x="100" y="654" width="57" height="15" fill="#0b0b0b"/>
<line x1="157.5" x2="157.5" y1="654" y2="669" stroke="#2a2a2a"/>
<rect x="158" y="654" width="39" height="15" fill="#0b0b0b"/>
<line x1="197.5" x2="197.5" y1="654" y2="669" stroke="#2a2a2a"/>
<rect x="198" y="654" width="39" height="15" fill="#0b0b0b"/>
<line x1="237.5" x2="237.5" y1="654" y2="669" stroke="#2a2a2a"/>
<rect x="238" y="654" width="39" height="15" fill="#0b0b0b"/>
<line x1="277.5" x2="277.5" y1="654" y2="669" stroke="#2a2a2a"/>
<rect x="278" y="654" width="63" height="15" fill="#464958"/>
<line x1="341.5" x2="341.5" y1="654" y2="669" stroke="#2a2a2a"/>
<rect x="342" y="654" width="63" height="15" fill="#0b0b0b"/>
<line x1="405.5" x2="405.5" y1="654" y2="669" stroke="#2a2a2a"/>
<line x1="405" x2="996" y1="668.5" y2="668.5" stroke="#1c1c1c"/>
</g>
<text x="27.5" y="665" fill="#b8b8b8" font-size="12" font-family="'Liberation Serif', 'Noto Serif CJK SC', serif" text-anchor="start">指标</text>
<text x="67.5" y="665" fill="#ffffff" font-size="12" font-family="'Liberation Serif', 'Noto Serif CJK SC', serif" text-anchor="start">模板</text>
<text x="107.5" y="665" fill="#f0b830" font-size="12" font-family="Liberation Serif, serif" textLength="18" lengthAdjust="spacingAndGlyphs">VIP</text>
<text x="125.5" y="665" fill="#f0b830" font-size="12" font-family="'Liberation Serif', 'Noto Serif CJK SC', serif" text-anchor="start">指标</text>
<text x="165.5" y="665" fill="#b8b8b8" font-size="12" font-family="'Liberation Serif', 'Noto Serif CJK SC', serif" text-anchor="start">标准</text>
<text x="205.5" y="665" fill="#b8b8b8" font-size="12" font-family="Liberation Serif, serif" textLength="24" lengthAdjust="spacingAndGlyphs">MACD</text>
<text x="245.5" y="665" fill="#b8b8b8" font-size="12" font-family="Liberation Serif, serif" textLength="24" lengthAdjust="spacingAndGlyphs">BOLL</text>
<text x="285.5" y="665" fill="#ffffff" font-size="12" font-family="'Liberation Serif', 'Noto Serif CJK SC', serif" text-anchor="start">另存模板</text>
<text x="349.5" y="665" fill="#e0e0e0" font-size="12" font-family="'Liberation Serif', 'Noto Serif CJK SC', serif" text-anchor="start">管理模板</text>
</svg>
</body></html>
